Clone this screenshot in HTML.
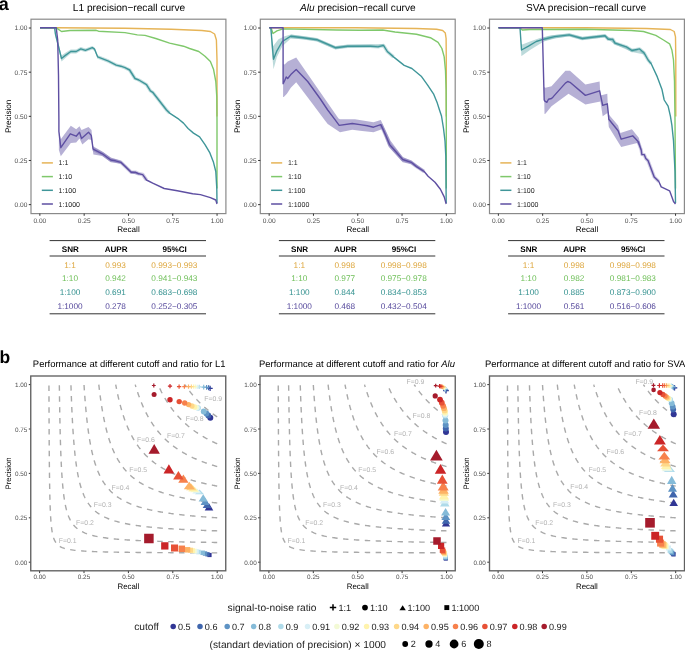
<!DOCTYPE html>
<html><head><meta charset="utf-8"><style>
html,body{margin:0;padding:0;background:#fff;overflow:hidden}
svg{display:block;font-family:"Liberation Sans", sans-serif;text-rendering:geometricPrecision;will-change:transform}
</style></head><body>
<svg width="685" height="650" viewBox="0 0 685 650">
<rect width="685" height="650" fill="#fff"/>
<text x="-1.30" y="9.70" font-size="18.0" text-anchor="start" fill="#000" font-weight="bold" font-style="normal" >a</text>
<text x="-0.60" y="363.00" font-size="17.5" text-anchor="start" fill="#000" font-weight="bold" font-style="normal" >b</text>
<rect x="31.00" y="19.20" width="194.90" height="194.40" fill="none" stroke="#8a8a8a" stroke-width="1.2"/>
<line x1="39.86" y1="213.60" x2="39.86" y2="215.80" stroke="#333333" stroke-width="1"/>
<line x1="28.80" y1="204.63" x2="31.00" y2="204.63" stroke="#333333" stroke-width="1"/>
<text x="39.86" y="223.20" font-size="6.6" text-anchor="middle" fill="#4D4D4D" font-weight="normal" font-style="normal" >0.00</text>
<text x="27.40" y="207.01" font-size="6.6" text-anchor="end" fill="#4D4D4D" font-weight="normal" font-style="normal" >0.00</text>
<line x1="84.16" y1="213.60" x2="84.16" y2="215.80" stroke="#333333" stroke-width="1"/>
<line x1="28.80" y1="160.48" x2="31.00" y2="160.48" stroke="#333333" stroke-width="1"/>
<text x="84.16" y="223.20" font-size="6.6" text-anchor="middle" fill="#4D4D4D" font-weight="normal" font-style="normal" >0.25</text>
<text x="27.40" y="162.86" font-size="6.6" text-anchor="end" fill="#4D4D4D" font-weight="normal" font-style="normal" >0.25</text>
<line x1="128.46" y1="213.60" x2="128.46" y2="215.80" stroke="#333333" stroke-width="1"/>
<line x1="28.80" y1="116.33" x2="31.00" y2="116.33" stroke="#333333" stroke-width="1"/>
<text x="128.46" y="223.20" font-size="6.6" text-anchor="middle" fill="#4D4D4D" font-weight="normal" font-style="normal" >0.50</text>
<text x="27.40" y="118.71" font-size="6.6" text-anchor="end" fill="#4D4D4D" font-weight="normal" font-style="normal" >0.50</text>
<line x1="172.76" y1="213.60" x2="172.76" y2="215.80" stroke="#333333" stroke-width="1"/>
<line x1="28.80" y1="72.18" x2="31.00" y2="72.18" stroke="#333333" stroke-width="1"/>
<text x="172.76" y="223.20" font-size="6.6" text-anchor="middle" fill="#4D4D4D" font-weight="normal" font-style="normal" >0.75</text>
<text x="27.40" y="74.56" font-size="6.6" text-anchor="end" fill="#4D4D4D" font-weight="normal" font-style="normal" >0.75</text>
<line x1="217.06" y1="213.60" x2="217.06" y2="215.80" stroke="#333333" stroke-width="1"/>
<line x1="28.80" y1="28.03" x2="31.00" y2="28.03" stroke="#333333" stroke-width="1"/>
<text x="217.06" y="223.20" font-size="6.6" text-anchor="middle" fill="#4D4D4D" font-weight="normal" font-style="normal" >1.00</text>
<text x="27.40" y="30.41" font-size="6.6" text-anchor="end" fill="#4D4D4D" font-weight="normal" font-style="normal" >1.00</text>
<text x="128.45" y="232.00" font-size="8.1" text-anchor="middle" fill="#000" font-weight="normal" font-style="normal" >Recall</text>
<text x="10.90" y="116.40" font-size="8.1" text-anchor="middle" fill="#000" font-weight="normal" font-style="normal" transform="rotate(-90 10.90 116.40)">Precision</text>
<text x="129.00" y="10.80" font-size="10.15" text-anchor="middle" fill="#000" font-weight="normal" font-style="normal" >L1 precision−recall curve</text>
<line x1="41.80" y1="162.90" x2="52.90" y2="162.90" stroke="#E6B457" stroke-width="1.5"/>
<text x="58.60" y="165.40" font-size="7" text-anchor="start" fill="#1a1a1a" font-weight="normal" font-style="normal" >1:1</text>
<line x1="41.80" y1="176.60" x2="52.90" y2="176.60" stroke="#7FC86B" stroke-width="1.5"/>
<text x="58.60" y="179.10" font-size="7" text-anchor="start" fill="#1a1a1a" font-weight="normal" font-style="normal" >1:10</text>
<line x1="41.80" y1="190.30" x2="52.90" y2="190.30" stroke="#3F9699" stroke-width="1.5"/>
<text x="58.60" y="192.80" font-size="7" text-anchor="start" fill="#1a1a1a" font-weight="normal" font-style="normal" >1:100</text>
<line x1="41.80" y1="204.00" x2="52.90" y2="204.00" stroke="#5E4FA2" stroke-width="1.5"/>
<text x="58.60" y="206.50" font-size="7" text-anchor="start" fill="#1a1a1a" font-weight="normal" font-style="normal" >1:1000</text>
<rect x="260.30" y="19.20" width="194.90" height="194.40" fill="none" stroke="#8a8a8a" stroke-width="1.2"/>
<line x1="269.16" y1="213.60" x2="269.16" y2="215.80" stroke="#333333" stroke-width="1"/>
<line x1="258.10" y1="204.63" x2="260.30" y2="204.63" stroke="#333333" stroke-width="1"/>
<text x="269.16" y="223.20" font-size="6.6" text-anchor="middle" fill="#4D4D4D" font-weight="normal" font-style="normal" >0.00</text>
<text x="256.70" y="207.01" font-size="6.6" text-anchor="end" fill="#4D4D4D" font-weight="normal" font-style="normal" >0.00</text>
<line x1="313.46" y1="213.60" x2="313.46" y2="215.80" stroke="#333333" stroke-width="1"/>
<line x1="258.10" y1="160.48" x2="260.30" y2="160.48" stroke="#333333" stroke-width="1"/>
<text x="313.46" y="223.20" font-size="6.6" text-anchor="middle" fill="#4D4D4D" font-weight="normal" font-style="normal" >0.25</text>
<text x="256.70" y="162.86" font-size="6.6" text-anchor="end" fill="#4D4D4D" font-weight="normal" font-style="normal" >0.25</text>
<line x1="357.76" y1="213.60" x2="357.76" y2="215.80" stroke="#333333" stroke-width="1"/>
<line x1="258.10" y1="116.33" x2="260.30" y2="116.33" stroke="#333333" stroke-width="1"/>
<text x="357.76" y="223.20" font-size="6.6" text-anchor="middle" fill="#4D4D4D" font-weight="normal" font-style="normal" >0.50</text>
<text x="256.70" y="118.71" font-size="6.6" text-anchor="end" fill="#4D4D4D" font-weight="normal" font-style="normal" >0.50</text>
<line x1="402.06" y1="213.60" x2="402.06" y2="215.80" stroke="#333333" stroke-width="1"/>
<line x1="258.10" y1="72.18" x2="260.30" y2="72.18" stroke="#333333" stroke-width="1"/>
<text x="402.06" y="223.20" font-size="6.6" text-anchor="middle" fill="#4D4D4D" font-weight="normal" font-style="normal" >0.75</text>
<text x="256.70" y="74.56" font-size="6.6" text-anchor="end" fill="#4D4D4D" font-weight="normal" font-style="normal" >0.75</text>
<line x1="446.36" y1="213.60" x2="446.36" y2="215.80" stroke="#333333" stroke-width="1"/>
<line x1="258.10" y1="28.03" x2="260.30" y2="28.03" stroke="#333333" stroke-width="1"/>
<text x="446.36" y="223.20" font-size="6.6" text-anchor="middle" fill="#4D4D4D" font-weight="normal" font-style="normal" >1.00</text>
<text x="256.70" y="30.41" font-size="6.6" text-anchor="end" fill="#4D4D4D" font-weight="normal" font-style="normal" >1.00</text>
<text x="357.75" y="232.00" font-size="8.1" text-anchor="middle" fill="#000" font-weight="normal" font-style="normal" >Recall</text>
<text x="240.20" y="116.40" font-size="8.1" text-anchor="middle" fill="#000" font-weight="normal" font-style="normal" transform="rotate(-90 240.20 116.40)">Precision</text>
<text x="357.75" y="10.80" font-size="10.15" text-anchor="middle" fill="#000" font-weight="normal" font-style="normal" ><tspan font-style="italic">Alu</tspan> precision−recall curve</text>
<line x1="271.10" y1="162.90" x2="282.20" y2="162.90" stroke="#E6B457" stroke-width="1.5"/>
<text x="287.90" y="165.40" font-size="7" text-anchor="start" fill="#1a1a1a" font-weight="normal" font-style="normal" >1:1</text>
<line x1="271.10" y1="176.60" x2="282.20" y2="176.60" stroke="#7FC86B" stroke-width="1.5"/>
<text x="287.90" y="179.10" font-size="7" text-anchor="start" fill="#1a1a1a" font-weight="normal" font-style="normal" >1:10</text>
<line x1="271.10" y1="190.30" x2="282.20" y2="190.30" stroke="#3F9699" stroke-width="1.5"/>
<text x="287.90" y="192.80" font-size="7" text-anchor="start" fill="#1a1a1a" font-weight="normal" font-style="normal" >1:100</text>
<line x1="271.10" y1="204.00" x2="282.20" y2="204.00" stroke="#5E4FA2" stroke-width="1.5"/>
<text x="287.90" y="206.50" font-size="7" text-anchor="start" fill="#1a1a1a" font-weight="normal" font-style="normal" >1:1000</text>
<rect x="489.50" y="19.20" width="194.90" height="194.40" fill="none" stroke="#8a8a8a" stroke-width="1.2"/>
<line x1="498.36" y1="213.60" x2="498.36" y2="215.80" stroke="#333333" stroke-width="1"/>
<line x1="487.30" y1="204.63" x2="489.50" y2="204.63" stroke="#333333" stroke-width="1"/>
<text x="498.36" y="223.20" font-size="6.6" text-anchor="middle" fill="#4D4D4D" font-weight="normal" font-style="normal" >0.00</text>
<text x="485.90" y="207.01" font-size="6.6" text-anchor="end" fill="#4D4D4D" font-weight="normal" font-style="normal" >0.00</text>
<line x1="542.66" y1="213.60" x2="542.66" y2="215.80" stroke="#333333" stroke-width="1"/>
<line x1="487.30" y1="160.48" x2="489.50" y2="160.48" stroke="#333333" stroke-width="1"/>
<text x="542.66" y="223.20" font-size="6.6" text-anchor="middle" fill="#4D4D4D" font-weight="normal" font-style="normal" >0.25</text>
<text x="485.90" y="162.86" font-size="6.6" text-anchor="end" fill="#4D4D4D" font-weight="normal" font-style="normal" >0.25</text>
<line x1="586.96" y1="213.60" x2="586.96" y2="215.80" stroke="#333333" stroke-width="1"/>
<line x1="487.30" y1="116.33" x2="489.50" y2="116.33" stroke="#333333" stroke-width="1"/>
<text x="586.96" y="223.20" font-size="6.6" text-anchor="middle" fill="#4D4D4D" font-weight="normal" font-style="normal" >0.50</text>
<text x="485.90" y="118.71" font-size="6.6" text-anchor="end" fill="#4D4D4D" font-weight="normal" font-style="normal" >0.50</text>
<line x1="631.26" y1="213.60" x2="631.26" y2="215.80" stroke="#333333" stroke-width="1"/>
<line x1="487.30" y1="72.18" x2="489.50" y2="72.18" stroke="#333333" stroke-width="1"/>
<text x="631.26" y="223.20" font-size="6.6" text-anchor="middle" fill="#4D4D4D" font-weight="normal" font-style="normal" >0.75</text>
<text x="485.90" y="74.56" font-size="6.6" text-anchor="end" fill="#4D4D4D" font-weight="normal" font-style="normal" >0.75</text>
<line x1="675.56" y1="213.60" x2="675.56" y2="215.80" stroke="#333333" stroke-width="1"/>
<line x1="487.30" y1="28.03" x2="489.50" y2="28.03" stroke="#333333" stroke-width="1"/>
<text x="675.56" y="223.20" font-size="6.6" text-anchor="middle" fill="#4D4D4D" font-weight="normal" font-style="normal" >1.00</text>
<text x="485.90" y="30.41" font-size="6.6" text-anchor="end" fill="#4D4D4D" font-weight="normal" font-style="normal" >1.00</text>
<text x="586.95" y="232.00" font-size="8.1" text-anchor="middle" fill="#000" font-weight="normal" font-style="normal" >Recall</text>
<text x="469.40" y="116.40" font-size="8.1" text-anchor="middle" fill="#000" font-weight="normal" font-style="normal" transform="rotate(-90 469.40 116.40)">Precision</text>
<text x="586.10" y="10.80" font-size="10.15" text-anchor="middle" fill="#000" font-weight="normal" font-style="normal" >SVA precision−recall curve</text>
<line x1="500.30" y1="162.90" x2="511.40" y2="162.90" stroke="#E6B457" stroke-width="1.5"/>
<text x="517.10" y="165.40" font-size="7" text-anchor="start" fill="#1a1a1a" font-weight="normal" font-style="normal" >1:1</text>
<line x1="500.30" y1="176.60" x2="511.40" y2="176.60" stroke="#7FC86B" stroke-width="1.5"/>
<text x="517.10" y="179.10" font-size="7" text-anchor="start" fill="#1a1a1a" font-weight="normal" font-style="normal" >1:10</text>
<line x1="500.30" y1="190.30" x2="511.40" y2="190.30" stroke="#3F9699" stroke-width="1.5"/>
<text x="517.10" y="192.80" font-size="7" text-anchor="start" fill="#1a1a1a" font-weight="normal" font-style="normal" >1:100</text>
<line x1="500.30" y1="204.00" x2="511.40" y2="204.00" stroke="#5E4FA2" stroke-width="1.5"/>
<text x="517.10" y="206.50" font-size="7" text-anchor="start" fill="#1a1a1a" font-weight="normal" font-style="normal" >1:1000</text>
<polyline points="97.70,56.90 108.50,61.20 116.20,65.10 120.80,66.20 125.00,67.70 129.60,70.00 135.00,78.50 138.80,80.00 146.50,84.60 150.40,90.80 152.70,92.30 166.50,110.00 169.60,113.10" fill="none" stroke="#3F9699" stroke-opacity="0.3" stroke-width="3.4" stroke-linejoin="round"/>
<polyline points="93.10,149.20 102.30,153.80 110.80,160.00 115.40,160.80 120.80,162.30 125.00,166.20 131.20,172.30 135.80,172.30 138.80,173.80 142.70,174.60 146.50,180.00" fill="none" stroke="#5E4FA2" stroke-opacity="0.3" stroke-width="3.6" stroke-linejoin="round"/>
<polygon points="55.40,31.00 61.50,55.50 65.40,52.80 70.80,49.50 76.20,49.50 80.80,47.00 85.40,48.50 92.30,46.00 94.60,47.50 97.70,55.30 97.70,58.50 94.60,51.00 92.30,49.40 85.40,52.10 80.80,50.80 76.20,53.50 70.80,53.50 65.40,58.00 61.50,61.50 55.40,36.50" fill="#3F9699" fill-opacity="0.35" stroke="none"/>
<polygon points="58.90,131.00 60.80,139.20 70.80,125.80 76.20,129.20 79.50,126.20 81.50,130.00 88.50,126.90 91.50,130.00 93.10,146.20 102.30,151.50 110.80,157.50 120.80,160.80 125.00,164.80 131.20,171.00 138.80,172.80 138.80,174.80 131.20,173.60 125.00,167.60 120.80,163.80 110.80,162.30 102.30,156.00 93.40,154.60 91.50,140.00 88.50,139.20 82.30,144.60 79.50,138.50 76.20,142.60 70.80,143.00 60.80,156.20 58.90,150.00" fill="#5E4FA2" fill-opacity="0.45" stroke="none"/>
<polyline points="40.00,27.70 56.00,27.70 125.00,28.20 171.20,29.20 201.90,30.50 210.40,31.50 214.60,34.00 216.40,40.00 217.00,60.00 217.00,116.50" fill="none" stroke="#E6B457" stroke-width="1.4" stroke-linejoin="round"/>
<polyline points="40.00,27.70 56.00,27.70 61.50,31.50 70.00,30.50 96.20,30.30 98.50,31.20 125.00,32.60 137.30,34.90 145.00,35.40 155.80,38.50 169.60,43.10 183.50,46.20 189.60,48.50 198.80,51.50 205.00,56.20 210.40,61.50 213.50,69.20 215.80,81.50 216.80,96.90 217.00,120.00 217.00,188.50" fill="none" stroke="#7FC86B" stroke-width="1.4" stroke-linejoin="round"/>
<polyline points="40.00,27.70 54.60,27.70 55.40,33.80 61.50,58.50 65.40,55.40 70.80,51.50 76.20,51.50 80.80,48.90 85.40,50.30 92.30,47.70 94.60,49.20 97.70,56.90 108.50,61.20 116.20,65.10 120.80,66.20 125.00,67.70 129.60,70.00 135.00,78.50 138.80,80.00 146.50,84.60 150.40,90.80 152.70,92.30 166.50,110.00 169.60,113.10 178.80,119.20 183.50,123.10 188.10,128.50 193.50,133.10 199.60,136.90 205.00,144.60 209.60,152.30 213.50,162.30 215.80,171.50 216.80,188.50 217.00,203.00" fill="none" stroke="#3F9699" stroke-width="1.4" stroke-linejoin="round"/>
<polyline points="40.00,27.70 56.20,27.70 57.70,40.00 58.50,75.40 58.90,120.00 58.90,131.50 60.80,147.70 70.30,133.80 76.20,136.20 79.50,132.30 81.50,138.50 88.50,132.30 91.20,135.40 93.10,149.20 102.30,153.80 110.80,160.00 115.40,160.80 120.80,162.30 125.00,166.20 131.20,172.30 135.80,172.30 138.80,173.80 142.70,174.60 146.50,180.00 152.70,183.10 164.20,188.50 177.30,190.80 192.70,193.80 200.40,194.60 210.40,197.70 215.80,200.00 217.00,204.00" fill="none" stroke="#5E4FA2" stroke-width="1.4" stroke-linejoin="round"/>
<polyline points="290.80,36.20 303.10,37.70 316.90,39.70 335.40,47.70 347.70,46.20 355.00,46.20 370.40,46.20 378.10,46.90 383.50,45.40 387.30,51.50 393.50,56.90" fill="none" stroke="#3F9699" stroke-opacity="0.3" stroke-width="3.4" stroke-linejoin="round"/>
<polyline points="380.80,124.60 385.80,135.40 389.60,144.60 395.00,150.80 402.70,159.50 411.20,162.30 416.50,166.60 424.20,171.50" fill="none" stroke="#5E4FA2" stroke-opacity="0.3" stroke-width="3.6" stroke-linejoin="round"/>
<polygon points="271.00,29.00 273.00,46.20 278.50,39.20 284.60,36.20 290.80,34.60 303.10,36.20 316.90,38.20 335.40,46.20 347.70,44.80 383.50,44.00 383.50,46.80 347.70,47.60 335.40,49.20 316.90,41.20 303.10,39.30 290.80,38.50 282.30,46.20 276.90,56.90 273.50,69.20 271.30,45.00" fill="#3F9699" fill-opacity="0.35" stroke="none"/>
<polygon points="283.10,64.00 284.60,64.60 287.70,61.50 296.20,57.40 338.50,118.50 340.00,119.20 355.00,119.20 373.50,122.30 380.80,120.00 390.40,140.50 402.70,157.00 411.20,160.50 424.20,170.00 424.20,173.00 411.20,164.20 402.70,162.30 388.80,146.90 381.90,129.20 373.50,132.30 360.00,130.80 352.30,129.70 340.00,132.30 327.70,124.00 324.60,120.00 310.80,101.50 296.20,82.30 290.80,87.70 286.90,93.80 283.80,96.90 283.10,97.00" fill="#5E4FA2" fill-opacity="0.45" stroke="none"/>
<polyline points="269.30,27.70 355.00,27.70 416.50,28.50 436.50,29.20 442.70,30.50 445.30,33.10 446.10,38.50 446.30,60.00 446.30,116.50" fill="none" stroke="#E6B457" stroke-width="1.4" stroke-linejoin="round"/>
<polyline points="269.30,27.70 271.00,27.70 273.00,33.50 276.90,30.80 283.10,28.90 336.90,30.00 360.00,30.30 382.70,30.00 395.00,32.00 416.50,34.20 430.40,37.70 438.10,42.30 441.90,48.50 444.20,56.90 445.50,70.80 446.10,89.20 446.30,120.00 446.30,188.50" fill="none" stroke="#7FC86B" stroke-width="1.4" stroke-linejoin="round"/>
<polyline points="269.30,27.70 270.80,27.70 273.50,59.20 276.90,50.80 282.30,41.50 290.80,36.20 303.10,37.70 316.90,39.70 335.40,47.70 347.70,46.20 355.00,46.20 370.40,46.20 378.10,46.90 383.50,45.40 387.30,51.50 393.50,56.90 404.20,65.40 411.90,68.50 421.20,76.20 427.30,84.60 433.50,93.80 437.30,103.10 439.50,110.00 441.50,116.00 443.50,128.50 445.00,140.80 445.80,156.20 446.20,203.00" fill="none" stroke="#3F9699" stroke-width="1.4" stroke-linejoin="round"/>
<polyline points="269.30,27.70 283.10,27.70 283.10,83.80 284.60,80.80 286.20,76.90 287.70,78.50 290.80,74.60 296.20,69.50 307.70,81.50 320.00,98.50 327.70,110.00 334.60,119.20 339.20,125.40 352.30,123.50 360.00,124.60 367.30,125.70 373.50,127.20 380.80,124.60 385.80,135.40 389.60,144.60 395.00,150.80 402.70,159.50 411.20,162.30 416.50,166.60 424.20,171.50 428.10,176.20 435.00,182.30 440.40,189.20 444.20,196.90 446.20,204.00" fill="none" stroke="#5E4FA2" stroke-width="1.4" stroke-linejoin="round"/>
<polyline points="543.80,39.20 554.60,36.60 569.20,34.90 582.30,38.50 590.00,37.50 605.00,35.80 608.10,39.20 612.70,39.20 615.00,43.10 626.50,46.90 631.90,50.50 639.60,48.90 644.20,53.10 648.10,60.00 651.20,63.80" fill="none" stroke="#3F9699" stroke-opacity="0.3" stroke-width="3.4" stroke-linejoin="round"/>
<polyline points="638.10,141.50 641.20,150.00 641.90,154.60 644.20,154.60 645.80,158.50 648.10,160.80 654.20,176.90 658.80,181.50" fill="none" stroke="#5E4FA2" stroke-opacity="0.3" stroke-width="3.4" stroke-linejoin="round"/>
<polygon points="521.00,44.00 522.30,44.60 530.00,41.50 539.20,38.20 550.00,35.60 569.20,33.60 582.30,37.10 605.00,34.40 615.00,41.60 631.90,49.00 644.20,51.60 644.20,54.60 631.90,52.00 615.00,44.60 605.00,37.20 582.30,39.90 569.20,36.20 555.00,38.50 543.80,41.50 530.00,50.00 522.30,55.40 521.30,56.00" fill="#3F9699" fill-opacity="0.35" stroke="none"/>
<polygon points="544.00,87.00 545.40,87.70 551.50,86.20 565.40,70.80 570.00,70.80 585.40,84.60 599.60,81.50 600.40,95.40 607.30,93.80 608.10,112.30 608.80,114.60 618.10,125.40 620.40,133.10 631.90,129.20 638.80,137.70 641.50,149.00 641.50,152.00 639.60,146.90 637.30,143.10 621.20,146.90 608.80,126.90 607.50,113.00 602.70,116.20 600.40,101.50 585.40,104.60 568.50,93.80 551.50,106.20 545.40,113.80 544.50,114.00" fill="#5E4FA2" fill-opacity="0.45" stroke="none"/>
<polyline points="498.50,27.70 585.00,27.70 646.50,28.50 670.40,29.50 674.20,31.50 675.50,36.90 675.80,60.00 675.80,116.50" fill="none" stroke="#E6B457" stroke-width="1.4" stroke-linejoin="round"/>
<polyline points="498.50,27.70 520.00,27.70 522.30,30.00 530.00,29.50 585.00,29.20 631.20,30.50 643.50,31.50 655.80,35.40 663.50,40.00 669.60,43.80 671.90,50.00 673.50,60.00 674.50,81.50 675.00,120.00 675.50,188.50" fill="none" stroke="#7FC86B" stroke-width="1.4" stroke-linejoin="round"/>
<polyline points="498.50,27.70 520.00,27.70 521.50,50.00 528.50,46.20 536.20,41.50 543.80,39.20 554.60,36.60 569.20,34.90 582.30,38.50 590.00,37.50 605.00,35.80 608.10,39.20 612.70,39.20 615.00,43.10 626.50,46.90 631.90,50.50 639.60,48.90 644.20,53.10 648.10,60.00 651.20,63.80 657.30,76.90 661.90,89.20 664.20,100.00 668.10,106.20 670.40,116.20 671.90,125.40 673.50,140.80 675.00,171.50 675.50,203.00" fill="none" stroke="#3F9699" stroke-width="1.4" stroke-linejoin="round"/>
<polyline points="498.50,27.70 542.30,27.70 544.20,100.00 544.60,100.80 546.90,102.30 548.50,99.20 551.50,98.50 553.10,96.90 565.40,83.10 567.70,81.50 570.00,82.30 585.40,95.40 599.60,90.80 602.70,105.40 607.30,103.80 608.50,115.00 608.80,119.20 618.10,130.80 621.20,139.20 632.70,135.80 638.10,141.50 641.20,150.00 641.90,154.60 644.20,154.60 645.80,158.50 648.10,160.80 654.20,176.90 658.80,181.50 661.20,186.90 669.60,190.80 671.90,196.90 673.50,201.50 675.50,204.00" fill="none" stroke="#5E4FA2" stroke-width="1.4" stroke-linejoin="round"/>
<line x1="49.60" y1="240.6" x2="206.00" y2="240.6" stroke="#333" stroke-width="1"/>
<line x1="49.60" y1="256.0" x2="206.00" y2="256.0" stroke="#333" stroke-width="1"/>
<line x1="49.60" y1="313.8" x2="206.00" y2="313.8" stroke="#333" stroke-width="1"/>
<text x="70.30" y="252.30" font-size="8.1" text-anchor="middle" fill="#000" font-weight="bold" font-style="normal" >SNR</text>
<text x="116.10" y="252.30" font-size="8.1" text-anchor="middle" fill="#000" font-weight="bold" font-style="normal" >AUPR</text>
<text x="174.70" y="252.30" font-size="8.1" text-anchor="middle" fill="#000" font-weight="bold" font-style="normal" >95%CI</text>
<text x="70.00" y="267.55" font-size="8.25" text-anchor="middle" fill="#DDA63C" font-weight="normal" font-style="normal" >1:1</text>
<text x="115.50" y="267.55" font-size="8.25" text-anchor="middle" fill="#DDA63C" font-weight="normal" font-style="normal" >0.993</text>
<text x="174.40" y="267.55" font-size="8.25" text-anchor="middle" fill="#DDA63C" font-weight="normal" font-style="normal" >0.993−0.993</text>
<text x="70.00" y="280.95" font-size="8.25" text-anchor="middle" fill="#6EBF58" font-weight="normal" font-style="normal" >1:10</text>
<text x="115.50" y="280.95" font-size="8.25" text-anchor="middle" fill="#6EBF58" font-weight="normal" font-style="normal" >0.942</text>
<text x="174.40" y="280.95" font-size="8.25" text-anchor="middle" fill="#6EBF58" font-weight="normal" font-style="normal" >0.941−0.943</text>
<text x="70.00" y="294.65" font-size="8.25" text-anchor="middle" fill="#33918F" font-weight="normal" font-style="normal" >1:100</text>
<text x="115.50" y="294.65" font-size="8.25" text-anchor="middle" fill="#33918F" font-weight="normal" font-style="normal" >0.691</text>
<text x="174.40" y="294.65" font-size="8.25" text-anchor="middle" fill="#33918F" font-weight="normal" font-style="normal" >0.683−0.698</text>
<text x="70.00" y="308.65" font-size="8.25" text-anchor="middle" fill="#56499C" font-weight="normal" font-style="normal" >1:1000</text>
<text x="115.50" y="308.65" font-size="8.25" text-anchor="middle" fill="#56499C" font-weight="normal" font-style="normal" >0.278</text>
<text x="174.40" y="308.65" font-size="8.25" text-anchor="middle" fill="#56499C" font-weight="normal" font-style="normal" >0.252−0.305</text>
<line x1="278.90" y1="240.6" x2="435.30" y2="240.6" stroke="#333" stroke-width="1"/>
<line x1="278.90" y1="256.0" x2="435.30" y2="256.0" stroke="#333" stroke-width="1"/>
<line x1="278.90" y1="313.8" x2="435.30" y2="313.8" stroke="#333" stroke-width="1"/>
<text x="299.60" y="252.30" font-size="8.1" text-anchor="middle" fill="#000" font-weight="bold" font-style="normal" >SNR</text>
<text x="345.40" y="252.30" font-size="8.1" text-anchor="middle" fill="#000" font-weight="bold" font-style="normal" >AUPR</text>
<text x="404.00" y="252.30" font-size="8.1" text-anchor="middle" fill="#000" font-weight="bold" font-style="normal" >95%CI</text>
<text x="299.30" y="267.55" font-size="8.25" text-anchor="middle" fill="#DDA63C" font-weight="normal" font-style="normal" >1:1</text>
<text x="344.80" y="267.55" font-size="8.25" text-anchor="middle" fill="#DDA63C" font-weight="normal" font-style="normal" >0.998</text>
<text x="403.70" y="267.55" font-size="8.25" text-anchor="middle" fill="#DDA63C" font-weight="normal" font-style="normal" >0.998−0.998</text>
<text x="299.30" y="280.95" font-size="8.25" text-anchor="middle" fill="#6EBF58" font-weight="normal" font-style="normal" >1:10</text>
<text x="344.80" y="280.95" font-size="8.25" text-anchor="middle" fill="#6EBF58" font-weight="normal" font-style="normal" >0.977</text>
<text x="403.70" y="280.95" font-size="8.25" text-anchor="middle" fill="#6EBF58" font-weight="normal" font-style="normal" >0.975−0.978</text>
<text x="299.30" y="294.65" font-size="8.25" text-anchor="middle" fill="#33918F" font-weight="normal" font-style="normal" >1:100</text>
<text x="344.80" y="294.65" font-size="8.25" text-anchor="middle" fill="#33918F" font-weight="normal" font-style="normal" >0.844</text>
<text x="403.70" y="294.65" font-size="8.25" text-anchor="middle" fill="#33918F" font-weight="normal" font-style="normal" >0.834−0.853</text>
<text x="299.30" y="308.65" font-size="8.25" text-anchor="middle" fill="#56499C" font-weight="normal" font-style="normal" >1:1000</text>
<text x="344.80" y="308.65" font-size="8.25" text-anchor="middle" fill="#56499C" font-weight="normal" font-style="normal" >0.468</text>
<text x="403.70" y="308.65" font-size="8.25" text-anchor="middle" fill="#56499C" font-weight="normal" font-style="normal" >0.432−0.504</text>
<line x1="508.10" y1="240.6" x2="664.50" y2="240.6" stroke="#333" stroke-width="1"/>
<line x1="508.10" y1="256.0" x2="664.50" y2="256.0" stroke="#333" stroke-width="1"/>
<line x1="508.10" y1="313.8" x2="664.50" y2="313.8" stroke="#333" stroke-width="1"/>
<text x="528.80" y="252.30" font-size="8.1" text-anchor="middle" fill="#000" font-weight="bold" font-style="normal" >SNR</text>
<text x="574.60" y="252.30" font-size="8.1" text-anchor="middle" fill="#000" font-weight="bold" font-style="normal" >AUPR</text>
<text x="633.20" y="252.30" font-size="8.1" text-anchor="middle" fill="#000" font-weight="bold" font-style="normal" >95%CI</text>
<text x="528.50" y="267.55" font-size="8.25" text-anchor="middle" fill="#DDA63C" font-weight="normal" font-style="normal" >1:1</text>
<text x="574.00" y="267.55" font-size="8.25" text-anchor="middle" fill="#DDA63C" font-weight="normal" font-style="normal" >0.998</text>
<text x="632.90" y="267.55" font-size="8.25" text-anchor="middle" fill="#DDA63C" font-weight="normal" font-style="normal" >0.998−0.998</text>
<text x="528.50" y="280.95" font-size="8.25" text-anchor="middle" fill="#6EBF58" font-weight="normal" font-style="normal" >1:10</text>
<text x="574.00" y="280.95" font-size="8.25" text-anchor="middle" fill="#6EBF58" font-weight="normal" font-style="normal" >0.982</text>
<text x="632.90" y="280.95" font-size="8.25" text-anchor="middle" fill="#6EBF58" font-weight="normal" font-style="normal" >0.981−0.983</text>
<text x="528.50" y="294.65" font-size="8.25" text-anchor="middle" fill="#33918F" font-weight="normal" font-style="normal" >1:100</text>
<text x="574.00" y="294.65" font-size="8.25" text-anchor="middle" fill="#33918F" font-weight="normal" font-style="normal" >0.885</text>
<text x="632.90" y="294.65" font-size="8.25" text-anchor="middle" fill="#33918F" font-weight="normal" font-style="normal" >0.873−0.900</text>
<text x="528.50" y="308.65" font-size="8.25" text-anchor="middle" fill="#56499C" font-weight="normal" font-style="normal" >1:1000</text>
<text x="574.00" y="308.65" font-size="8.25" text-anchor="middle" fill="#56499C" font-weight="normal" font-style="normal" >0.561</text>
<text x="632.90" y="308.65" font-size="8.25" text-anchor="middle" fill="#56499C" font-weight="normal" font-style="normal" >0.516−0.606</text>
<clipPath id="cp0"><rect x="31.00" y="376.00" width="194.90" height="194.90"/></clipPath>
<g clip-path="url(#cp0)"><polyline points="217.20,552.85 215.60,552.85 214.00,552.84 212.40,552.84 210.81,552.83 209.21,552.83 207.61,552.82 206.01,552.82 204.41,552.81 202.81,552.81 201.22,552.80 199.62,552.80 198.02,552.79 196.42,552.79 194.82,552.78 193.22,552.78 191.63,552.77 190.03,552.76 188.43,552.76 186.83,552.75 185.23,552.74 183.63,552.74 182.04,552.73 180.44,552.72 178.84,552.72 177.24,552.71 175.64,552.70 174.04,552.69 172.44,552.68 170.85,552.68 169.25,552.67 167.65,552.66 166.05,552.65 164.45,552.64 162.85,552.63 161.26,552.62 159.66,552.61 158.06,552.60 156.46,552.59 154.86,552.58 153.26,552.57 151.67,552.56 150.07,552.54 148.47,552.53 146.87,552.52 145.27,552.51 143.67,552.49 142.08,552.48 140.48,552.46 138.88,552.45 137.28,552.43 135.68,552.42 134.08,552.40 132.48,552.38 130.89,552.36 129.29,552.34 127.69,552.32 126.09,552.30 124.49,552.28 122.89,552.26 121.30,552.24 119.70,552.21 118.10,552.19 116.50,552.16 114.90,552.13 113.30,552.10 111.71,552.07 110.11,552.04 108.51,552.01 106.91,551.97 105.31,551.93 103.71,551.89 102.12,551.85 100.52,551.80 98.92,551.76 97.32,551.71 95.72,551.65 94.12,551.59 92.52,551.53 90.93,551.46 89.33,551.39 87.73,551.31 86.13,551.23 84.53,551.13 82.93,551.03 81.34,550.92 79.74,550.80 78.14,550.66 76.54,550.51 74.94,550.34 73.34,550.15 71.75,549.93 70.15,549.68 68.55,549.39 66.95,549.05 65.35,548.65 63.75,548.16 62.16,547.55 60.56,546.79 58.96,545.79 57.36,544.44 56.01,542.84 55.01,541.24 54.25,539.64 53.64,538.05 53.15,536.45 52.75,534.85 52.41,533.25 52.12,531.65 51.87,530.05 51.65,528.46 51.46,526.86 51.29,525.26 51.14,523.66 51.00,522.06 50.88,520.46 50.77,518.87 50.67,517.27 50.57,515.67 50.49,514.07 50.41,512.47 50.34,510.87 50.27,509.28 50.21,507.68 50.15,506.08 50.09,504.48 50.04,502.88 50.00,501.28 49.95,499.68 49.91,498.09 49.87,496.49 49.83,494.89 49.79,493.29 49.76,491.69 49.73,490.09 49.70,488.50 49.67,486.90 49.64,485.30 49.61,483.70 49.59,482.10 49.56,480.50 49.54,478.91 49.52,477.31 49.50,475.71 49.48,474.11 49.46,472.51 49.44,470.91 49.42,469.32 49.40,467.72 49.38,466.12 49.37,464.52 49.35,462.92 49.34,461.32 49.32,459.72 49.31,458.13 49.29,456.53 49.28,454.93 49.27,453.33 49.26,451.73 49.24,450.13 49.23,448.54 49.22,446.94 49.21,445.34 49.20,443.74 49.19,442.14 49.18,440.54 49.17,438.95 49.16,437.35 49.15,435.75 49.14,434.15 49.13,432.55 49.12,430.95 49.12,429.36 49.11,427.76 49.10,426.16 49.09,424.56 49.08,422.96 49.08,421.36 49.07,419.76 49.06,418.17 49.06,416.57 49.05,414.97 49.04,413.37 49.04,411.77 49.03,410.17 49.02,408.58 49.02,406.98 49.01,405.38 49.01,403.78 49.00,402.18 49.00,400.58 48.99,398.99 48.99,397.39 48.98,395.79 48.98,394.19 48.97,392.59 48.97,390.99 48.96,389.40 48.96,387.80 48.95,386.20 48.95,384.60" fill="none" stroke="#A9A9A9" stroke-width="1.4" stroke-dasharray="5.45 5.45" stroke-dashoffset="0.0"/><polyline points="217.20,542.47 215.78,542.45 214.36,542.43 212.94,542.41 211.52,542.39 210.10,542.37 208.68,542.36 207.25,542.34 205.83,542.32 204.41,542.30 202.99,542.27 201.57,542.25 200.15,542.23 198.73,542.21 197.31,542.19 195.89,542.16 194.47,542.14 193.05,542.12 191.63,542.09 190.20,542.07 188.78,542.04 187.36,542.01 185.94,541.99 184.52,541.96 183.10,541.93 181.68,541.90 180.26,541.87 178.84,541.84 177.42,541.81 176.00,541.78 174.58,541.75 173.16,541.72 171.73,541.68 170.31,541.65 168.89,541.61 167.47,541.58 166.05,541.54 164.63,541.50 163.21,541.46 161.79,541.42 160.37,541.38 158.95,541.34 157.53,541.29 156.11,541.25 154.68,541.20 153.26,541.15 151.84,541.10 150.42,541.05 149.00,541.00 147.58,540.94 146.16,540.89 144.74,540.83 143.32,540.77 141.90,540.71 140.48,540.65 139.06,540.58 137.64,540.51 136.21,540.44 134.79,540.37 133.37,540.29 131.95,540.21 130.53,540.13 129.11,540.04 127.69,539.96 126.27,539.86 124.85,539.77 123.43,539.67 122.01,539.56 120.59,539.45 119.16,539.34 117.74,539.22 116.32,539.09 114.90,538.96 113.48,538.82 112.06,538.67 110.64,538.52 109.22,538.36 107.80,538.19 106.38,538.01 104.96,537.81 103.54,537.61 102.12,537.39 100.69,537.16 99.27,536.91 97.85,536.65 96.43,536.37 95.01,536.06 93.59,535.73 92.17,535.38 90.75,534.99 89.33,534.57 87.91,534.11 86.49,533.61 85.07,533.06 83.64,532.44 82.22,531.75 80.80,530.99 79.38,530.12 77.96,529.13 76.54,528.00 75.12,526.68 73.80,525.26 72.67,523.84 71.68,522.42 70.81,521.00 70.05,519.58 69.36,518.16 68.74,516.73 68.19,515.31 67.69,513.89 67.23,512.47 66.81,511.05 66.42,509.63 66.07,508.21 65.74,506.79 65.43,505.37 65.15,503.95 64.89,502.53 64.64,501.11 64.41,499.68 64.19,498.26 63.99,496.84 63.79,495.42 63.61,494.00 63.44,492.58 63.28,491.16 63.13,489.74 62.98,488.32 62.84,486.90 62.71,485.48 62.58,484.06 62.46,482.64 62.35,481.21 62.24,479.79 62.13,478.37 62.03,476.95 61.94,475.53 61.84,474.11 61.76,472.69 61.67,471.27 61.59,469.85 61.51,468.43 61.43,467.01 61.36,465.59 61.29,464.16 61.22,462.74 61.15,461.32 61.09,459.90 61.03,458.48 60.97,457.06 60.91,455.64 60.86,454.22 60.80,452.80 60.75,451.38 60.70,449.96 60.65,448.54 60.60,447.12 60.55,445.69 60.51,444.27 60.46,442.85 60.42,441.43 60.38,440.01 60.34,438.59 60.30,437.17 60.26,435.75 60.22,434.33 60.19,432.91 60.15,431.49 60.12,430.07 60.08,428.64 60.05,427.22 60.02,425.80 59.99,424.38 59.96,422.96 59.93,421.54 59.90,420.12 59.87,418.70 59.84,417.28 59.81,415.86 59.79,414.44 59.76,413.02 59.73,411.60 59.71,410.17 59.68,408.75 59.66,407.33 59.64,405.91 59.61,404.49 59.59,403.07 59.57,401.65 59.55,400.23 59.53,398.81 59.50,397.39 59.48,395.97 59.46,394.55 59.44,393.12 59.43,391.70 59.41,390.28 59.39,388.86 59.37,387.44 59.35,386.02 59.33,384.60" fill="none" stroke="#A9A9A9" stroke-width="1.4" stroke-dasharray="5.45 5.45" stroke-dashoffset="0.0"/><polyline points="217.20,530.86 215.96,530.82 214.71,530.78 213.47,530.74 212.23,530.70 210.98,530.66 209.74,530.61 208.50,530.57 207.25,530.53 206.01,530.48 204.77,530.44 203.52,530.39 202.28,530.34 201.04,530.30 199.80,530.25 198.55,530.20 197.31,530.15 196.07,530.09 194.82,530.04 193.58,529.99 192.34,529.93 191.09,529.88 189.85,529.82 188.61,529.76 187.36,529.70 186.12,529.64 184.88,529.58 183.63,529.51 182.39,529.45 181.15,529.38 179.90,529.32 178.66,529.25 177.42,529.18 176.17,529.10 174.93,529.03 173.69,528.96 172.44,528.88 171.20,528.80 169.96,528.72 168.72,528.63 167.47,528.55 166.23,528.46 164.99,528.37 163.74,528.28 162.50,528.19 161.26,528.09 160.01,527.99 158.77,527.89 157.53,527.79 156.28,527.68 155.04,527.57 153.80,527.45 152.55,527.34 151.31,527.22 150.07,527.09 148.82,526.97 147.58,526.84 146.34,526.70 145.09,526.56 143.85,526.42 142.61,526.27 141.36,526.11 140.12,525.95 138.88,525.79 137.64,525.62 136.39,525.44 135.15,525.26 133.91,525.07 132.66,524.88 131.42,524.67 130.18,524.46 128.93,524.24 127.69,524.01 126.45,523.77 125.20,523.52 123.96,523.26 122.72,522.99 121.47,522.71 120.23,522.42 118.99,522.11 117.74,521.78 116.50,521.44 115.26,521.08 114.01,520.70 112.77,520.31 111.53,519.89 110.28,519.45 109.04,518.98 107.80,518.48 106.56,517.96 105.31,517.40 104.07,516.80 102.83,516.16 101.58,515.48 100.34,514.75 99.10,513.96 97.85,513.11 96.61,512.19 95.37,511.19 94.12,510.11 92.88,508.92 91.69,507.68 90.61,506.43 89.61,505.19 88.69,503.95 87.84,502.70 87.05,501.46 86.32,500.22 85.64,498.97 85.00,497.73 84.40,496.49 83.84,495.24 83.32,494.00 82.82,492.76 82.35,491.52 81.91,490.27 81.49,489.03 81.10,487.79 80.72,486.54 80.36,485.30 80.02,484.06 79.69,482.81 79.38,481.57 79.09,480.33 78.81,479.08 78.54,477.84 78.28,476.60 78.03,475.35 77.79,474.11 77.56,472.87 77.34,471.62 77.13,470.38 76.92,469.14 76.73,467.89 76.54,466.65 76.36,465.41 76.18,464.16 76.01,462.92 75.85,461.68 75.69,460.44 75.53,459.19 75.38,457.95 75.24,456.71 75.10,455.46 74.96,454.22 74.83,452.98 74.71,451.73 74.58,450.49 74.46,449.25 74.35,448.00 74.23,446.76 74.12,445.52 74.01,444.27 73.91,443.03 73.81,441.79 73.71,440.54 73.61,439.30 73.52,438.06 73.43,436.81 73.34,435.57 73.25,434.33 73.17,433.08 73.08,431.84 73.00,430.60 72.92,429.36 72.84,428.11 72.77,426.87 72.70,425.63 72.62,424.38 72.55,423.14 72.48,421.90 72.42,420.65 72.35,419.41 72.29,418.17 72.22,416.92 72.16,415.68 72.10,414.44 72.04,413.19 71.98,411.95 71.92,410.71 71.87,409.46 71.81,408.22 71.76,406.98 71.71,405.73 71.65,404.49 71.60,403.25 71.55,402.00 71.50,400.76 71.46,399.52 71.41,398.28 71.36,397.03 71.32,395.79 71.27,394.55 71.23,393.30 71.19,392.06 71.14,390.82 71.10,389.57 71.06,388.33 71.02,387.09 70.98,385.84 70.94,384.60" fill="none" stroke="#A9A9A9" stroke-width="1.4" stroke-dasharray="5.45 5.45" stroke-dashoffset="0.0"/><polyline points="217.20,517.80 216.13,517.73 215.07,517.66 214.00,517.60 212.94,517.53 211.87,517.45 210.81,517.38 209.74,517.31 208.68,517.23 207.61,517.16 206.54,517.08 205.48,517.00 204.41,516.92 203.35,516.84 202.28,516.76 201.22,516.67 200.15,516.59 199.08,516.50 198.02,516.41 196.95,516.32 195.89,516.23 194.82,516.14 193.76,516.05 192.69,515.95 191.63,515.85 190.56,515.75 189.49,515.65 188.43,515.55 187.36,515.44 186.30,515.33 185.23,515.22 184.17,515.11 183.10,515.00 182.04,514.88 180.97,514.76 179.90,514.64 178.84,514.52 177.77,514.39 176.71,514.26 175.64,514.13 174.58,513.99 173.51,513.86 172.44,513.72 171.38,513.57 170.31,513.43 169.25,513.28 168.18,513.12 167.12,512.97 166.05,512.81 164.99,512.64 163.92,512.47 162.85,512.30 161.79,512.12 160.72,511.94 159.66,511.76 158.59,511.57 157.53,511.37 156.46,511.17 155.40,510.96 154.33,510.75 153.26,510.53 152.20,510.31 151.13,510.08 150.07,509.85 149.00,509.60 147.94,509.35 146.87,509.10 145.80,508.83 144.74,508.56 143.67,508.28 142.61,507.99 141.54,507.69 140.48,507.38 139.41,507.06 138.35,506.72 137.28,506.38 136.21,506.03 135.15,505.66 134.08,505.28 133.02,504.89 131.95,504.48 130.89,504.06 129.82,503.62 128.76,503.16 127.69,502.68 126.62,502.18 125.56,501.67 124.49,501.13 123.43,500.56 122.36,499.97 121.30,499.36 120.23,498.71 119.16,498.03 118.10,497.32 117.03,496.58 115.97,495.79 114.90,494.97 113.84,494.09 112.77,493.17 111.71,492.19 110.64,491.16 109.61,490.09 108.63,489.03 107.71,487.96 106.83,486.90 106.01,485.83 105.22,484.77 104.48,483.70 103.77,482.64 103.09,481.57 102.44,480.50 101.83,479.44 101.24,478.37 100.67,477.31 100.13,476.24 99.62,475.18 99.12,474.11 98.64,473.04 98.18,471.98 97.74,470.91 97.32,469.85 96.91,468.78 96.52,467.72 96.14,466.65 95.77,465.59 95.42,464.52 95.08,463.45 94.74,462.39 94.42,461.32 94.11,460.26 93.81,459.19 93.52,458.13 93.24,457.06 92.97,456.00 92.70,454.93 92.45,453.86 92.20,452.80 91.95,451.73 91.72,450.67 91.49,449.60 91.27,448.54 91.05,447.47 90.84,446.40 90.63,445.34 90.43,444.27 90.23,443.21 90.04,442.14 89.86,441.08 89.68,440.01 89.50,438.95 89.33,437.88 89.16,436.81 89.00,435.75 88.83,434.68 88.68,433.62 88.52,432.55 88.37,431.49 88.23,430.42 88.08,429.36 87.94,428.29 87.81,427.22 87.67,426.16 87.54,425.09 87.41,424.03 87.28,422.96 87.16,421.90 87.04,420.83 86.92,419.76 86.80,418.70 86.69,417.63 86.58,416.57 86.47,415.50 86.36,414.44 86.25,413.37 86.15,412.31 86.05,411.24 85.95,410.17 85.85,409.11 85.75,408.04 85.66,406.98 85.57,405.91 85.48,404.85 85.39,403.78 85.30,402.72 85.21,401.65 85.13,400.58 85.04,399.52 84.96,398.45 84.88,397.39 84.80,396.32 84.72,395.26 84.64,394.19 84.57,393.12 84.49,392.06 84.42,390.99 84.35,389.93 84.27,388.86 84.20,387.80 84.14,386.73 84.07,385.67 84.00,384.60" fill="none" stroke="#A9A9A9" stroke-width="1.4" stroke-dasharray="5.45 5.45" stroke-dashoffset="0.0"/><polyline points="217.20,503.00 216.31,502.90 215.42,502.80 214.54,502.70 213.65,502.59 212.76,502.49 211.87,502.38 210.98,502.28 210.10,502.17 209.21,502.06 208.32,501.94 207.43,501.83 206.54,501.71 205.66,501.60 204.77,501.48 203.88,501.36 202.99,501.23 202.10,501.11 201.22,500.98 200.33,500.85 199.44,500.72 198.55,500.59 197.66,500.46 196.78,500.32 195.89,500.18 195.00,500.04 194.11,499.90 193.22,499.75 192.34,499.60 191.45,499.45 190.56,499.30 189.67,499.14 188.78,498.99 187.90,498.83 187.01,498.66 186.12,498.50 185.23,498.33 184.34,498.15 183.46,497.98 182.57,497.80 181.68,497.62 180.79,497.43 179.90,497.24 179.02,497.05 178.13,496.86 177.24,496.66 176.35,496.45 175.46,496.25 174.58,496.04 173.69,495.82 172.80,495.60 171.91,495.38 171.02,495.15 170.14,494.91 169.25,494.68 168.36,494.43 167.47,494.18 166.58,493.93 165.70,493.67 164.81,493.40 163.92,493.13 163.03,492.86 162.14,492.57 161.26,492.28 160.37,491.99 159.48,491.68 158.59,491.37 157.70,491.05 156.82,490.73 155.93,490.39 155.04,490.05 154.15,489.70 153.26,489.34 152.38,488.97 151.49,488.59 150.60,488.20 149.71,487.80 148.82,487.39 147.94,486.97 147.05,486.53 146.16,486.09 145.27,485.63 144.38,485.15 143.50,484.67 142.61,484.16 141.72,483.65 140.83,483.11 139.94,482.56 139.06,481.99 138.17,481.41 137.28,480.80 136.39,480.17 135.50,479.52 134.62,478.85 133.73,478.16 132.84,477.44 131.95,476.69 131.06,475.91 130.18,475.11 129.29,474.27 128.40,473.40 127.53,472.51 126.69,471.62 125.89,470.74 125.11,469.85 124.36,468.96 123.64,468.07 122.95,467.18 122.28,466.30 121.63,465.41 121.00,464.52 120.39,463.63 119.81,462.74 119.24,461.86 118.69,460.97 118.15,460.08 117.64,459.19 117.13,458.30 116.65,457.42 116.17,456.53 115.71,455.64 115.27,454.75 114.83,453.86 114.41,452.98 114.00,452.09 113.60,451.20 113.21,450.31 112.83,449.42 112.46,448.54 112.10,447.65 111.75,446.76 111.41,445.87 111.07,444.98 110.75,444.10 110.43,443.21 110.12,442.32 109.81,441.43 109.52,440.54 109.23,439.66 108.94,438.77 108.67,437.88 108.40,436.99 108.13,436.10 107.87,435.22 107.62,434.33 107.37,433.44 107.12,432.55 106.89,431.66 106.65,430.78 106.42,429.89 106.20,429.00 105.98,428.11 105.76,427.22 105.55,426.34 105.35,425.45 105.14,424.56 104.94,423.67 104.75,422.78 104.56,421.90 104.37,421.01 104.18,420.12 104.00,419.23 103.82,418.34 103.65,417.46 103.47,416.57 103.30,415.68 103.14,414.79 102.97,413.90 102.81,413.02 102.66,412.13 102.50,411.24 102.35,410.35 102.20,409.46 102.05,408.58 101.90,407.69 101.76,406.80 101.62,405.91 101.48,405.02 101.34,404.14 101.21,403.25 101.08,402.36 100.95,401.47 100.82,400.58 100.69,399.70 100.57,398.81 100.44,397.92 100.32,397.03 100.20,396.14 100.09,395.26 99.97,394.37 99.86,393.48 99.74,392.59 99.63,391.70 99.52,390.82 99.42,389.93 99.31,389.04 99.21,388.15 99.10,387.26 99.00,386.38 98.90,385.49 98.80,384.60" fill="none" stroke="#A9A9A9" stroke-width="1.4" stroke-dasharray="5.45 5.45" stroke-dashoffset="0.0"/><polyline points="217.20,486.09 216.49,485.95 215.78,485.82 215.07,485.69 214.36,485.55 213.65,485.41 212.94,485.28 212.23,485.13 211.52,484.99 210.81,484.85 210.10,484.70 209.39,484.55 208.68,484.40 207.96,484.25 207.25,484.10 206.54,483.95 205.83,483.79 205.12,483.63 204.41,483.47 203.70,483.30 202.99,483.14 202.28,482.97 201.57,482.80 200.86,482.63 200.15,482.46 199.44,482.28 198.73,482.10 198.02,481.92 197.31,481.74 196.60,481.55 195.89,481.36 195.18,481.17 194.47,480.98 193.76,480.78 193.05,480.58 192.34,480.38 191.63,480.17 190.92,479.96 190.20,479.75 189.49,479.54 188.78,479.32 188.07,479.10 187.36,478.87 186.65,478.65 185.94,478.42 185.23,478.18 184.52,477.94 183.81,477.70 183.10,477.46 182.39,477.21 181.68,476.95 180.97,476.69 180.26,476.43 179.55,476.17 178.84,475.90 178.13,475.62 177.42,475.34 176.71,475.06 176.00,474.77 175.29,474.47 174.58,474.17 173.87,473.87 173.16,473.56 172.44,473.24 171.73,472.92 171.02,472.59 170.31,472.26 169.60,471.92 168.89,471.57 168.18,471.22 167.47,470.86 166.76,470.50 166.05,470.12 165.34,469.74 164.63,469.36 163.92,468.96 163.21,468.56 162.50,468.14 161.79,467.72 161.08,467.30 160.37,466.86 159.66,466.41 158.95,465.95 158.24,465.49 157.53,465.01 156.82,464.52 156.11,464.02 155.40,463.51 154.68,462.99 153.97,462.45 153.26,461.91 152.55,461.35 151.84,460.78 151.13,460.19 150.42,459.59 149.71,458.97 149.00,458.34 148.29,457.69 147.58,457.02 146.87,456.34 146.16,455.64 145.46,454.93 144.78,454.22 144.11,453.51 143.46,452.80 142.83,452.09 142.21,451.38 141.61,450.67 141.02,449.96 140.45,449.25 139.89,448.54 139.35,447.83 138.81,447.12 138.29,446.40 137.78,445.69 137.28,444.98 136.79,444.27 136.31,443.56 135.85,442.85 135.39,442.14 134.94,441.43 134.50,440.72 134.08,440.01 133.66,439.30 133.24,438.59 132.84,437.88 132.44,437.17 132.06,436.46 131.68,435.75 131.30,435.04 130.94,434.33 130.58,433.62 130.23,432.91 129.88,432.20 129.54,431.49 129.21,430.78 128.88,430.07 128.56,429.36 128.24,428.64 127.93,427.93 127.63,427.22 127.33,426.51 127.03,425.80 126.74,425.09 126.46,424.38 126.18,423.67 125.90,422.96 125.63,422.25 125.37,421.54 125.11,420.83 124.85,420.12 124.59,419.41 124.34,418.70 124.10,417.99 123.86,417.28 123.62,416.57 123.38,415.86 123.15,415.15 122.93,414.44 122.70,413.73 122.48,413.02 122.26,412.31 122.05,411.60 121.84,410.88 121.63,410.17 121.42,409.46 121.22,408.75 121.02,408.04 120.82,407.33 120.63,406.62 120.44,405.91 120.25,405.20 120.06,404.49 119.88,403.78 119.70,403.07 119.52,402.36 119.34,401.65 119.17,400.94 119.00,400.23 118.83,399.52 118.66,398.81 118.50,398.10 118.33,397.39 118.17,396.68 118.01,395.97 117.86,395.26 117.70,394.55 117.55,393.84 117.40,393.12 117.25,392.41 117.10,391.70 116.95,390.99 116.81,390.28 116.67,389.57 116.52,388.86 116.39,388.15 116.25,387.44 116.11,386.73 115.98,386.02 115.85,385.31 115.71,384.60" fill="none" stroke="#A9A9A9" stroke-width="1.4" stroke-dasharray="5.45 5.45" stroke-dashoffset="0.0"/><polyline points="217.20,466.57 216.67,466.41 216.13,466.26 215.60,466.10 215.07,465.94 214.54,465.78 214.00,465.62 213.47,465.45 212.94,465.29 212.40,465.12 211.87,464.95 211.34,464.78 210.81,464.61 210.27,464.43 209.74,464.26 209.21,464.08 208.68,463.90 208.14,463.72 207.61,463.54 207.08,463.35 206.54,463.17 206.01,462.98 205.48,462.79 204.95,462.59 204.41,462.40 203.88,462.20 203.35,462.01 202.81,461.80 202.28,461.60 201.75,461.40 201.22,461.19 200.68,460.98 200.15,460.77 199.62,460.56 199.08,460.34 198.55,460.12 198.02,459.90 197.49,459.68 196.95,459.45 196.42,459.22 195.89,458.99 195.36,458.76 194.82,458.52 194.29,458.28 193.76,458.04 193.22,457.80 192.69,457.55 192.16,457.30 191.63,457.04 191.09,456.79 190.56,456.53 190.03,456.27 189.49,456.00 188.96,455.73 188.43,455.46 187.90,455.18 187.36,454.90 186.83,454.62 186.30,454.33 185.76,454.04 185.23,453.75 184.70,453.45 184.17,453.15 183.63,452.85 183.10,452.54 182.57,452.22 182.04,451.91 181.50,451.59 180.97,451.26 180.44,450.93 179.90,450.59 179.37,450.26 178.84,449.91 178.31,449.56 177.77,449.21 177.24,448.85 176.71,448.49 176.17,448.12 175.64,447.74 175.11,447.36 174.58,446.98 174.04,446.59 173.51,446.19 172.98,445.79 172.44,445.38 171.91,444.96 171.38,444.54 170.85,444.11 170.31,443.68 169.78,443.24 169.25,442.79 168.72,442.33 168.18,441.87 167.65,441.40 167.12,440.92 166.58,440.43 166.05,439.94 165.52,439.44 164.99,438.93 164.45,438.41 163.92,437.88 163.39,437.35 162.87,436.81 162.36,436.28 161.86,435.75 161.37,435.22 160.88,434.68 160.40,434.15 159.93,433.62 159.47,433.08 159.01,432.55 158.56,432.02 158.12,431.49 157.69,430.95 157.26,430.42 156.84,429.89 156.42,429.36 156.01,428.82 155.61,428.29 155.21,427.76 154.82,427.22 154.44,426.69 154.06,426.16 153.68,425.63 153.31,425.09 152.95,424.56 152.59,424.03 152.24,423.49 151.89,422.96 151.54,422.43 151.21,421.90 150.87,421.36 150.54,420.83 150.21,420.30 149.89,419.76 149.58,419.23 149.26,418.70 148.95,418.17 148.65,417.63 148.35,417.10 148.05,416.57 147.76,416.04 147.47,415.50 147.18,414.97 146.90,414.44 146.62,413.90 146.34,413.37 146.07,412.84 145.80,412.31 145.53,411.77 145.27,411.24 145.01,410.71 144.76,410.17 144.50,409.64 144.25,409.11 144.00,408.58 143.76,408.04 143.52,407.51 143.28,406.98 143.04,406.44 142.81,405.91 142.58,405.38 142.35,404.85 142.12,404.31 141.90,403.78 141.68,403.25 141.46,402.72 141.24,402.18 141.03,401.65 140.82,401.12 140.61,400.58 140.40,400.05 140.20,399.52 140.00,398.99 139.79,398.45 139.60,397.92 139.40,397.39 139.21,396.85 139.01,396.32 138.82,395.79 138.63,395.26 138.45,394.72 138.26,394.19 138.08,393.66 137.90,393.12 137.72,392.59 137.54,392.06 137.37,391.53 137.19,390.99 137.02,390.46 136.85,389.93 136.68,389.40 136.51,388.86 136.35,388.33 136.18,387.80 136.02,387.26 135.86,386.73 135.70,386.20 135.54,385.67 135.39,385.13 135.23,384.60" fill="none" stroke="#A9A9A9" stroke-width="1.4" stroke-dasharray="5.45 5.45" stroke-dashoffset="0.0"/><polyline points="217.20,443.80 216.84,443.64 216.49,443.48 216.13,443.32 215.78,443.16 215.42,443.00 215.07,442.83 214.71,442.67 214.36,442.50 214.00,442.34 213.65,442.17 213.29,442.00 212.94,441.83 212.58,441.65 212.23,441.48 211.87,441.31 211.52,441.13 211.16,440.96 210.81,440.78 210.45,440.60 210.10,440.42 209.74,440.24 209.39,440.05 209.03,439.87 208.68,439.68 208.32,439.49 207.96,439.31 207.61,439.12 207.25,438.92 206.90,438.73 206.54,438.54 206.19,438.34 205.83,438.15 205.48,437.95 205.12,437.75 204.77,437.54 204.41,437.34 204.06,437.14 203.70,436.93 203.35,436.72 202.99,436.51 202.64,436.30 202.28,436.09 201.93,435.88 201.57,435.66 201.22,435.44 200.86,435.22 200.51,435.00 200.15,434.78 199.80,434.55 199.44,434.33 199.08,434.10 198.73,433.87 198.37,433.64 198.02,433.40 197.66,433.17 197.31,432.93 196.95,432.69 196.60,432.45 196.24,432.21 195.89,431.96 195.53,431.71 195.18,431.46 194.82,431.21 194.47,430.96 194.11,430.70 193.76,430.44 193.40,430.18 193.05,429.92 192.69,429.65 192.34,429.39 191.98,429.12 191.63,428.84 191.27,428.57 190.92,428.29 190.56,428.01 190.20,427.73 189.85,427.45 189.49,427.16 189.14,426.87 188.78,426.58 188.43,426.28 188.07,425.99 187.72,425.69 187.36,425.38 187.01,425.08 186.65,424.77 186.30,424.46 185.94,424.14 185.59,423.82 185.23,423.50 184.88,423.18 184.52,422.85 184.17,422.52 183.81,422.19 183.46,421.85 183.10,421.51 182.75,421.17 182.39,420.82 182.04,420.47 181.68,420.12 181.33,419.76 180.98,419.41 180.63,419.05 180.29,418.70 179.95,418.34 179.61,417.99 179.28,417.63 178.95,417.28 178.62,416.92 178.30,416.57 177.98,416.21 177.66,415.86 177.34,415.50 177.03,415.15 176.72,414.79 176.42,414.44 176.11,414.08 175.81,413.73 175.52,413.37 175.22,413.02 174.93,412.66 174.64,412.31 174.35,411.95 174.07,411.60 173.79,411.24 173.51,410.88 173.23,410.53 172.96,410.17 172.68,409.82 172.41,409.46 172.15,409.11 171.88,408.75 171.62,408.40 171.36,408.04 171.10,407.69 170.84,407.33 170.59,406.98 170.34,406.62 170.09,406.27 169.84,405.91 169.59,405.56 169.35,405.20 169.11,404.85 168.87,404.49 168.63,404.14 168.40,403.78 168.16,403.43 167.93,403.07 167.70,402.72 167.47,402.36 167.25,402.00 167.02,401.65 166.80,401.29 166.58,400.94 166.36,400.58 166.14,400.23 165.92,399.87 165.71,399.52 165.50,399.16 165.29,398.81 165.08,398.45 164.87,398.10 164.66,397.74 164.46,397.39 164.26,397.03 164.05,396.68 163.85,396.32 163.65,395.97 163.46,395.61 163.26,395.26 163.07,394.90 162.88,394.55 162.68,394.19 162.49,393.84 162.31,393.48 162.12,393.12 161.93,392.77 161.75,392.41 161.56,392.06 161.38,391.70 161.20,391.35 161.02,390.99 160.84,390.64 160.67,390.28 160.49,389.93 160.32,389.57 160.15,389.22 159.97,388.86 159.80,388.51 159.63,388.15 159.46,387.80 159.30,387.44 159.13,387.09 158.97,386.73 158.80,386.38 158.64,386.02 158.48,385.67 158.32,385.31 158.16,384.96 158.00,384.60" fill="none" stroke="#A9A9A9" stroke-width="1.4" stroke-dasharray="5.45 5.45" stroke-dashoffset="0.0"/><polyline points="217.20,416.89 217.02,416.77 216.84,416.65 216.67,416.53 216.49,416.41 216.31,416.29 216.13,416.17 215.96,416.05 215.78,415.93 215.60,415.80 215.42,415.68 215.25,415.56 215.07,415.43 214.89,415.31 214.71,415.18 214.54,415.06 214.36,414.93 214.18,414.81 214.00,414.68 213.83,414.55 213.65,414.42 213.47,414.30 213.29,414.17 213.12,414.04 212.94,413.91 212.76,413.78 212.58,413.65 212.40,413.52 212.23,413.38 212.05,413.25 211.87,413.12 211.69,412.99 211.52,412.85 211.34,412.72 211.16,412.58 210.98,412.45 210.81,412.31 210.63,412.17 210.45,412.04 210.27,411.90 210.10,411.76 209.92,411.62 209.74,411.48 209.56,411.35 209.39,411.20 209.21,411.06 209.03,410.92 208.85,410.78 208.68,410.64 208.50,410.50 208.32,410.35 208.14,410.21 207.96,410.06 207.79,409.92 207.61,409.77 207.43,409.63 207.25,409.48 207.08,409.33 206.90,409.18 206.72,409.03 206.54,408.88 206.37,408.73 206.19,408.58 206.01,408.43 205.83,408.28 205.66,408.13 205.48,407.97 205.30,407.82 205.12,407.67 204.95,407.51 204.77,407.36 204.59,407.20 204.41,407.04 204.24,406.88 204.06,406.73 203.88,406.57 203.70,406.41 203.52,406.25 203.35,406.09 203.17,405.92 202.99,405.76 202.81,405.60 202.64,405.43 202.46,405.27 202.28,405.10 202.10,404.94 201.93,404.77 201.75,404.60 201.57,404.44 201.39,404.27 201.22,404.10 201.04,403.93 200.86,403.76 200.68,403.58 200.51,403.41 200.33,403.24 200.15,403.06 199.97,402.89 199.80,402.71 199.62,402.54 199.44,402.36 199.26,402.18 199.09,402.00 198.91,401.83 198.74,401.65 198.56,401.47 198.39,401.29 198.22,401.12 198.04,400.94 197.87,400.76 197.70,400.58 197.53,400.41 197.36,400.23 197.20,400.05 197.03,399.87 196.86,399.70 196.70,399.52 196.53,399.34 196.37,399.16 196.20,398.99 196.04,398.81 195.88,398.63 195.71,398.45 195.55,398.28 195.39,398.10 195.23,397.92 195.07,397.74 194.92,397.56 194.76,397.39 194.60,397.21 194.44,397.03 194.29,396.85 194.13,396.68 193.98,396.50 193.83,396.32 193.67,396.14 193.52,395.97 193.37,395.79 193.22,395.61 193.07,395.43 192.92,395.26 192.77,395.08 192.62,394.90 192.47,394.72 192.32,394.55 192.17,394.37 192.03,394.19 191.88,394.01 191.74,393.84 191.59,393.66 191.45,393.48 191.30,393.30 191.16,393.12 191.02,392.95 190.88,392.77 190.74,392.59 190.60,392.41 190.45,392.24 190.32,392.06 190.18,391.88 190.04,391.70 189.90,391.53 189.76,391.35 189.63,391.17 189.49,390.99 189.35,390.82 189.22,390.64 189.08,390.46 188.95,390.28 188.81,390.11 188.68,389.93 188.55,389.75 188.42,389.57 188.28,389.40 188.15,389.22 188.02,389.04 187.89,388.86 187.76,388.68 187.63,388.51 187.50,388.33 187.38,388.15 187.25,387.97 187.12,387.80 186.99,387.62 186.87,387.44 186.74,387.26 186.62,387.09 186.49,386.91 186.37,386.73 186.24,386.55 186.12,386.38 186.00,386.20 185.87,386.02 185.75,385.84 185.63,385.67 185.51,385.49 185.39,385.31 185.27,385.13 185.15,384.96 185.03,384.78 184.91,384.60" fill="none" stroke="#A9A9A9" stroke-width="1.4" stroke-dasharray="5.45 5.45" stroke-dashoffset="0.0"/></g>
<rect x="31.00" y="376.00" width="194.90" height="194.90" fill="none" stroke="none" stroke-width="1.2"/>
<line x1="39.60" y1="570.90" x2="39.60" y2="573.10" stroke="#333333" stroke-width="1"/>
<line x1="28.80" y1="562.20" x2="31.00" y2="562.20" stroke="#333333" stroke-width="1"/>
<text x="39.60" y="578.80" font-size="6.35" text-anchor="middle" fill="#4D4D4D" font-weight="normal" font-style="normal" >0.00</text>
<text x="27.40" y="564.89" font-size="6.35" text-anchor="end" fill="#4D4D4D" font-weight="normal" font-style="normal" >0.00</text>
<line x1="84.00" y1="570.90" x2="84.00" y2="573.10" stroke="#333333" stroke-width="1"/>
<line x1="28.80" y1="517.80" x2="31.00" y2="517.80" stroke="#333333" stroke-width="1"/>
<text x="84.00" y="578.80" font-size="6.35" text-anchor="middle" fill="#4D4D4D" font-weight="normal" font-style="normal" >0.25</text>
<text x="27.40" y="520.49" font-size="6.35" text-anchor="end" fill="#4D4D4D" font-weight="normal" font-style="normal" >0.25</text>
<line x1="128.40" y1="570.90" x2="128.40" y2="573.10" stroke="#333333" stroke-width="1"/>
<line x1="28.80" y1="473.40" x2="31.00" y2="473.40" stroke="#333333" stroke-width="1"/>
<text x="128.40" y="578.80" font-size="6.35" text-anchor="middle" fill="#4D4D4D" font-weight="normal" font-style="normal" >0.50</text>
<text x="27.40" y="476.09" font-size="6.35" text-anchor="end" fill="#4D4D4D" font-weight="normal" font-style="normal" >0.50</text>
<line x1="172.80" y1="570.90" x2="172.80" y2="573.10" stroke="#333333" stroke-width="1"/>
<line x1="28.80" y1="429.00" x2="31.00" y2="429.00" stroke="#333333" stroke-width="1"/>
<text x="172.80" y="578.80" font-size="6.35" text-anchor="middle" fill="#4D4D4D" font-weight="normal" font-style="normal" >0.75</text>
<text x="27.40" y="431.69" font-size="6.35" text-anchor="end" fill="#4D4D4D" font-weight="normal" font-style="normal" >0.75</text>
<line x1="217.20" y1="570.90" x2="217.20" y2="573.10" stroke="#333333" stroke-width="1"/>
<line x1="28.80" y1="384.60" x2="31.00" y2="384.60" stroke="#333333" stroke-width="1"/>
<text x="217.20" y="578.80" font-size="6.35" text-anchor="middle" fill="#4D4D4D" font-weight="normal" font-style="normal" >1.00</text>
<text x="27.40" y="387.29" font-size="6.35" text-anchor="end" fill="#4D4D4D" font-weight="normal" font-style="normal" >1.00</text>
<text x="128.45" y="588.80" font-size="7.85" text-anchor="middle" fill="#000" font-weight="normal" font-style="normal" >Recall</text>
<text x="11.00" y="473.45" font-size="7.85" text-anchor="middle" fill="#000" font-weight="normal" font-style="normal" transform="rotate(-90 11.00 473.45)">Precision</text>
<rect x="30.75" y="376.0" width="195.00" height="194.8" fill="none" stroke="#606060" stroke-width="1.35"/>
<text x="32.85" y="366.70" font-size="9.45" text-anchor="start" fill="#000" font-weight="normal" font-style="normal" >Performance at different cutoff and ratio for L1</text>
<clipPath id="cp1"><rect x="260.30" y="376.00" width="194.90" height="194.90"/></clipPath>
<g clip-path="url(#cp1)"><polyline points="446.50,552.85 444.90,552.85 443.30,552.84 441.70,552.84 440.11,552.83 438.51,552.83 436.91,552.82 435.31,552.82 433.71,552.81 432.11,552.81 430.52,552.80 428.92,552.80 427.32,552.79 425.72,552.79 424.12,552.78 422.52,552.78 420.93,552.77 419.33,552.76 417.73,552.76 416.13,552.75 414.53,552.74 412.93,552.74 411.34,552.73 409.74,552.72 408.14,552.72 406.54,552.71 404.94,552.70 403.34,552.69 401.74,552.68 400.15,552.68 398.55,552.67 396.95,552.66 395.35,552.65 393.75,552.64 392.15,552.63 390.56,552.62 388.96,552.61 387.36,552.60 385.76,552.59 384.16,552.58 382.56,552.57 380.97,552.56 379.37,552.54 377.77,552.53 376.17,552.52 374.57,552.51 372.97,552.49 371.38,552.48 369.78,552.46 368.18,552.45 366.58,552.43 364.98,552.42 363.38,552.40 361.78,552.38 360.19,552.36 358.59,552.34 356.99,552.32 355.39,552.30 353.79,552.28 352.19,552.26 350.60,552.24 349.00,552.21 347.40,552.19 345.80,552.16 344.20,552.13 342.60,552.10 341.01,552.07 339.41,552.04 337.81,552.01 336.21,551.97 334.61,551.93 333.01,551.89 331.42,551.85 329.82,551.80 328.22,551.76 326.62,551.71 325.02,551.65 323.42,551.59 321.82,551.53 320.23,551.46 318.63,551.39 317.03,551.31 315.43,551.23 313.83,551.13 312.23,551.03 310.64,550.92 309.04,550.80 307.44,550.66 305.84,550.51 304.24,550.34 302.64,550.15 301.05,549.93 299.45,549.68 297.85,549.39 296.25,549.05 294.65,548.65 293.05,548.16 291.46,547.55 289.86,546.79 288.26,545.79 286.66,544.44 285.31,542.84 284.31,541.24 283.55,539.64 282.94,538.05 282.45,536.45 282.05,534.85 281.71,533.25 281.42,531.65 281.17,530.05 280.95,528.46 280.76,526.86 280.59,525.26 280.44,523.66 280.30,522.06 280.18,520.46 280.07,518.87 279.97,517.27 279.87,515.67 279.79,514.07 279.71,512.47 279.64,510.87 279.57,509.28 279.51,507.68 279.45,506.08 279.39,504.48 279.34,502.88 279.30,501.28 279.25,499.68 279.21,498.09 279.17,496.49 279.13,494.89 279.09,493.29 279.06,491.69 279.03,490.09 279.00,488.50 278.97,486.90 278.94,485.30 278.91,483.70 278.89,482.10 278.86,480.50 278.84,478.91 278.82,477.31 278.80,475.71 278.78,474.11 278.76,472.51 278.74,470.91 278.72,469.32 278.70,467.72 278.68,466.12 278.67,464.52 278.65,462.92 278.64,461.32 278.62,459.72 278.61,458.13 278.59,456.53 278.58,454.93 278.57,453.33 278.56,451.73 278.54,450.13 278.53,448.54 278.52,446.94 278.51,445.34 278.50,443.74 278.49,442.14 278.48,440.54 278.47,438.95 278.46,437.35 278.45,435.75 278.44,434.15 278.43,432.55 278.42,430.95 278.42,429.36 278.41,427.76 278.40,426.16 278.39,424.56 278.38,422.96 278.38,421.36 278.37,419.76 278.36,418.17 278.36,416.57 278.35,414.97 278.34,413.37 278.34,411.77 278.33,410.17 278.32,408.58 278.32,406.98 278.31,405.38 278.31,403.78 278.30,402.18 278.30,400.58 278.29,398.99 278.29,397.39 278.28,395.79 278.28,394.19 278.27,392.59 278.27,390.99 278.26,389.40 278.26,387.80 278.25,386.20 278.25,384.60" fill="none" stroke="#A9A9A9" stroke-width="1.4" stroke-dasharray="5.45 5.45" stroke-dashoffset="0.0"/><polyline points="446.50,542.47 445.08,542.45 443.66,542.43 442.24,542.41 440.82,542.39 439.40,542.37 437.98,542.36 436.55,542.34 435.13,542.32 433.71,542.30 432.29,542.27 430.87,542.25 429.45,542.23 428.03,542.21 426.61,542.19 425.19,542.16 423.77,542.14 422.35,542.12 420.93,542.09 419.50,542.07 418.08,542.04 416.66,542.01 415.24,541.99 413.82,541.96 412.40,541.93 410.98,541.90 409.56,541.87 408.14,541.84 406.72,541.81 405.30,541.78 403.88,541.75 402.46,541.72 401.03,541.68 399.61,541.65 398.19,541.61 396.77,541.58 395.35,541.54 393.93,541.50 392.51,541.46 391.09,541.42 389.67,541.38 388.25,541.34 386.83,541.29 385.41,541.25 383.98,541.20 382.56,541.15 381.14,541.10 379.72,541.05 378.30,541.00 376.88,540.94 375.46,540.89 374.04,540.83 372.62,540.77 371.20,540.71 369.78,540.65 368.36,540.58 366.94,540.51 365.51,540.44 364.09,540.37 362.67,540.29 361.25,540.21 359.83,540.13 358.41,540.04 356.99,539.96 355.57,539.86 354.15,539.77 352.73,539.67 351.31,539.56 349.89,539.45 348.46,539.34 347.04,539.22 345.62,539.09 344.20,538.96 342.78,538.82 341.36,538.67 339.94,538.52 338.52,538.36 337.10,538.19 335.68,538.01 334.26,537.81 332.84,537.61 331.42,537.39 329.99,537.16 328.57,536.91 327.15,536.65 325.73,536.37 324.31,536.06 322.89,535.73 321.47,535.38 320.05,534.99 318.63,534.57 317.21,534.11 315.79,533.61 314.37,533.06 312.94,532.44 311.52,531.75 310.10,530.99 308.68,530.12 307.26,529.13 305.84,528.00 304.42,526.68 303.10,525.26 301.97,523.84 300.98,522.42 300.11,521.00 299.35,519.58 298.66,518.16 298.04,516.73 297.49,515.31 296.99,513.89 296.53,512.47 296.11,511.05 295.72,509.63 295.37,508.21 295.04,506.79 294.73,505.37 294.45,503.95 294.19,502.53 293.94,501.11 293.71,499.68 293.49,498.26 293.29,496.84 293.09,495.42 292.91,494.00 292.74,492.58 292.58,491.16 292.43,489.74 292.28,488.32 292.14,486.90 292.01,485.48 291.88,484.06 291.76,482.64 291.65,481.21 291.54,479.79 291.43,478.37 291.33,476.95 291.24,475.53 291.14,474.11 291.06,472.69 290.97,471.27 290.89,469.85 290.81,468.43 290.73,467.01 290.66,465.59 290.59,464.16 290.52,462.74 290.45,461.32 290.39,459.90 290.33,458.48 290.27,457.06 290.21,455.64 290.16,454.22 290.10,452.80 290.05,451.38 290.00,449.96 289.95,448.54 289.90,447.12 289.85,445.69 289.81,444.27 289.76,442.85 289.72,441.43 289.68,440.01 289.64,438.59 289.60,437.17 289.56,435.75 289.52,434.33 289.49,432.91 289.45,431.49 289.42,430.07 289.38,428.64 289.35,427.22 289.32,425.80 289.29,424.38 289.26,422.96 289.23,421.54 289.20,420.12 289.17,418.70 289.14,417.28 289.11,415.86 289.09,414.44 289.06,413.02 289.03,411.60 289.01,410.17 288.98,408.75 288.96,407.33 288.94,405.91 288.91,404.49 288.89,403.07 288.87,401.65 288.85,400.23 288.83,398.81 288.80,397.39 288.78,395.97 288.76,394.55 288.74,393.12 288.73,391.70 288.71,390.28 288.69,388.86 288.67,387.44 288.65,386.02 288.63,384.60" fill="none" stroke="#A9A9A9" stroke-width="1.4" stroke-dasharray="5.45 5.45" stroke-dashoffset="0.0"/><polyline points="446.50,530.86 445.26,530.82 444.01,530.78 442.77,530.74 441.53,530.70 440.28,530.66 439.04,530.61 437.80,530.57 436.55,530.53 435.31,530.48 434.07,530.44 432.82,530.39 431.58,530.34 430.34,530.30 429.10,530.25 427.85,530.20 426.61,530.15 425.37,530.09 424.12,530.04 422.88,529.99 421.64,529.93 420.39,529.88 419.15,529.82 417.91,529.76 416.66,529.70 415.42,529.64 414.18,529.58 412.93,529.51 411.69,529.45 410.45,529.38 409.20,529.32 407.96,529.25 406.72,529.18 405.47,529.10 404.23,529.03 402.99,528.96 401.74,528.88 400.50,528.80 399.26,528.72 398.02,528.63 396.77,528.55 395.53,528.46 394.29,528.37 393.04,528.28 391.80,528.19 390.56,528.09 389.31,527.99 388.07,527.89 386.83,527.79 385.58,527.68 384.34,527.57 383.10,527.45 381.85,527.34 380.61,527.22 379.37,527.09 378.12,526.97 376.88,526.84 375.64,526.70 374.39,526.56 373.15,526.42 371.91,526.27 370.66,526.11 369.42,525.95 368.18,525.79 366.94,525.62 365.69,525.44 364.45,525.26 363.21,525.07 361.96,524.88 360.72,524.67 359.48,524.46 358.23,524.24 356.99,524.01 355.75,523.77 354.50,523.52 353.26,523.26 352.02,522.99 350.77,522.71 349.53,522.42 348.29,522.11 347.04,521.78 345.80,521.44 344.56,521.08 343.31,520.70 342.07,520.31 340.83,519.89 339.58,519.45 338.34,518.98 337.10,518.48 335.86,517.96 334.61,517.40 333.37,516.80 332.13,516.16 330.88,515.48 329.64,514.75 328.40,513.96 327.15,513.11 325.91,512.19 324.67,511.19 323.42,510.11 322.18,508.92 320.99,507.68 319.91,506.43 318.91,505.19 317.99,503.95 317.14,502.70 316.35,501.46 315.62,500.22 314.94,498.97 314.30,497.73 313.70,496.49 313.14,495.24 312.62,494.00 312.12,492.76 311.65,491.52 311.21,490.27 310.79,489.03 310.40,487.79 310.02,486.54 309.66,485.30 309.32,484.06 308.99,482.81 308.68,481.57 308.39,480.33 308.11,479.08 307.84,477.84 307.58,476.60 307.33,475.35 307.09,474.11 306.86,472.87 306.64,471.62 306.43,470.38 306.22,469.14 306.03,467.89 305.84,466.65 305.66,465.41 305.48,464.16 305.31,462.92 305.15,461.68 304.99,460.44 304.83,459.19 304.68,457.95 304.54,456.71 304.40,455.46 304.26,454.22 304.13,452.98 304.01,451.73 303.88,450.49 303.76,449.25 303.65,448.00 303.53,446.76 303.42,445.52 303.31,444.27 303.21,443.03 303.11,441.79 303.01,440.54 302.91,439.30 302.82,438.06 302.73,436.81 302.64,435.57 302.55,434.33 302.47,433.08 302.38,431.84 302.30,430.60 302.22,429.36 302.14,428.11 302.07,426.87 302.00,425.63 301.92,424.38 301.85,423.14 301.78,421.90 301.72,420.65 301.65,419.41 301.59,418.17 301.52,416.92 301.46,415.68 301.40,414.44 301.34,413.19 301.28,411.95 301.22,410.71 301.17,409.46 301.11,408.22 301.06,406.98 301.01,405.73 300.95,404.49 300.90,403.25 300.85,402.00 300.80,400.76 300.76,399.52 300.71,398.28 300.66,397.03 300.62,395.79 300.57,394.55 300.53,393.30 300.49,392.06 300.44,390.82 300.40,389.57 300.36,388.33 300.32,387.09 300.28,385.84 300.24,384.60" fill="none" stroke="#A9A9A9" stroke-width="1.4" stroke-dasharray="5.45 5.45" stroke-dashoffset="0.0"/><polyline points="446.50,517.80 445.43,517.73 444.37,517.66 443.30,517.60 442.24,517.53 441.17,517.45 440.11,517.38 439.04,517.31 437.98,517.23 436.91,517.16 435.84,517.08 434.78,517.00 433.71,516.92 432.65,516.84 431.58,516.76 430.52,516.67 429.45,516.59 428.38,516.50 427.32,516.41 426.25,516.32 425.19,516.23 424.12,516.14 423.06,516.05 421.99,515.95 420.93,515.85 419.86,515.75 418.79,515.65 417.73,515.55 416.66,515.44 415.60,515.33 414.53,515.22 413.47,515.11 412.40,515.00 411.34,514.88 410.27,514.76 409.20,514.64 408.14,514.52 407.07,514.39 406.01,514.26 404.94,514.13 403.88,513.99 402.81,513.86 401.74,513.72 400.68,513.57 399.61,513.43 398.55,513.28 397.48,513.12 396.42,512.97 395.35,512.81 394.29,512.64 393.22,512.47 392.15,512.30 391.09,512.12 390.02,511.94 388.96,511.76 387.89,511.57 386.83,511.37 385.76,511.17 384.70,510.96 383.63,510.75 382.56,510.53 381.50,510.31 380.43,510.08 379.37,509.85 378.30,509.60 377.24,509.35 376.17,509.10 375.10,508.83 374.04,508.56 372.97,508.28 371.91,507.99 370.84,507.69 369.78,507.38 368.71,507.06 367.65,506.72 366.58,506.38 365.51,506.03 364.45,505.66 363.38,505.28 362.32,504.89 361.25,504.48 360.19,504.06 359.12,503.62 358.06,503.16 356.99,502.68 355.92,502.18 354.86,501.67 353.79,501.13 352.73,500.56 351.66,499.97 350.60,499.36 349.53,498.71 348.46,498.03 347.40,497.32 346.33,496.58 345.27,495.79 344.20,494.97 343.14,494.09 342.07,493.17 341.01,492.19 339.94,491.16 338.91,490.09 337.93,489.03 337.01,487.96 336.13,486.90 335.31,485.83 334.52,484.77 333.78,483.70 333.07,482.64 332.39,481.57 331.74,480.50 331.13,479.44 330.54,478.37 329.97,477.31 329.43,476.24 328.92,475.18 328.42,474.11 327.94,473.04 327.48,471.98 327.04,470.91 326.62,469.85 326.21,468.78 325.82,467.72 325.44,466.65 325.07,465.59 324.72,464.52 324.38,463.45 324.04,462.39 323.72,461.32 323.41,460.26 323.11,459.19 322.82,458.13 322.54,457.06 322.27,456.00 322.00,454.93 321.75,453.86 321.50,452.80 321.25,451.73 321.02,450.67 320.79,449.60 320.57,448.54 320.35,447.47 320.14,446.40 319.93,445.34 319.73,444.27 319.53,443.21 319.34,442.14 319.16,441.08 318.98,440.01 318.80,438.95 318.63,437.88 318.46,436.81 318.30,435.75 318.13,434.68 317.98,433.62 317.82,432.55 317.67,431.49 317.53,430.42 317.38,429.36 317.24,428.29 317.11,427.22 316.97,426.16 316.84,425.09 316.71,424.03 316.58,422.96 316.46,421.90 316.34,420.83 316.22,419.76 316.10,418.70 315.99,417.63 315.88,416.57 315.77,415.50 315.66,414.44 315.55,413.37 315.45,412.31 315.35,411.24 315.25,410.17 315.15,409.11 315.05,408.04 314.96,406.98 314.87,405.91 314.78,404.85 314.69,403.78 314.60,402.72 314.51,401.65 314.43,400.58 314.34,399.52 314.26,398.45 314.18,397.39 314.10,396.32 314.02,395.26 313.94,394.19 313.87,393.12 313.79,392.06 313.72,390.99 313.65,389.93 313.57,388.86 313.50,387.80 313.44,386.73 313.37,385.67 313.30,384.60" fill="none" stroke="#A9A9A9" stroke-width="1.4" stroke-dasharray="5.45 5.45" stroke-dashoffset="0.0"/><polyline points="446.50,503.00 445.61,502.90 444.72,502.80 443.84,502.70 442.95,502.59 442.06,502.49 441.17,502.38 440.28,502.28 439.40,502.17 438.51,502.06 437.62,501.94 436.73,501.83 435.84,501.71 434.96,501.60 434.07,501.48 433.18,501.36 432.29,501.23 431.40,501.11 430.52,500.98 429.63,500.85 428.74,500.72 427.85,500.59 426.96,500.46 426.08,500.32 425.19,500.18 424.30,500.04 423.41,499.90 422.52,499.75 421.64,499.60 420.75,499.45 419.86,499.30 418.97,499.14 418.08,498.99 417.20,498.83 416.31,498.66 415.42,498.50 414.53,498.33 413.64,498.15 412.76,497.98 411.87,497.80 410.98,497.62 410.09,497.43 409.20,497.24 408.32,497.05 407.43,496.86 406.54,496.66 405.65,496.45 404.76,496.25 403.88,496.04 402.99,495.82 402.10,495.60 401.21,495.38 400.32,495.15 399.44,494.91 398.55,494.68 397.66,494.43 396.77,494.18 395.88,493.93 395.00,493.67 394.11,493.40 393.22,493.13 392.33,492.86 391.44,492.57 390.56,492.28 389.67,491.99 388.78,491.68 387.89,491.37 387.00,491.05 386.12,490.73 385.23,490.39 384.34,490.05 383.45,489.70 382.56,489.34 381.68,488.97 380.79,488.59 379.90,488.20 379.01,487.80 378.12,487.39 377.24,486.97 376.35,486.53 375.46,486.09 374.57,485.63 373.68,485.15 372.80,484.67 371.91,484.16 371.02,483.65 370.13,483.11 369.24,482.56 368.36,481.99 367.47,481.41 366.58,480.80 365.69,480.17 364.80,479.52 363.92,478.85 363.03,478.16 362.14,477.44 361.25,476.69 360.36,475.91 359.48,475.11 358.59,474.27 357.70,473.40 356.83,472.51 355.99,471.62 355.19,470.74 354.41,469.85 353.66,468.96 352.94,468.07 352.25,467.18 351.58,466.30 350.93,465.41 350.30,464.52 349.69,463.63 349.11,462.74 348.54,461.86 347.99,460.97 347.45,460.08 346.94,459.19 346.43,458.30 345.95,457.42 345.47,456.53 345.01,455.64 344.57,454.75 344.13,453.86 343.71,452.98 343.30,452.09 342.90,451.20 342.51,450.31 342.13,449.42 341.76,448.54 341.40,447.65 341.05,446.76 340.71,445.87 340.37,444.98 340.05,444.10 339.73,443.21 339.42,442.32 339.11,441.43 338.82,440.54 338.53,439.66 338.24,438.77 337.97,437.88 337.70,436.99 337.43,436.10 337.17,435.22 336.92,434.33 336.67,433.44 336.43,432.55 336.19,431.66 335.95,430.78 335.72,429.89 335.50,429.00 335.28,428.11 335.06,427.22 334.85,426.34 334.65,425.45 334.44,424.56 334.24,423.67 334.05,422.78 333.86,421.90 333.67,421.01 333.48,420.12 333.30,419.23 333.12,418.34 332.95,417.46 332.77,416.57 332.60,415.68 332.44,414.79 332.27,413.90 332.11,413.02 331.96,412.13 331.80,411.24 331.65,410.35 331.50,409.46 331.35,408.58 331.20,407.69 331.06,406.80 330.92,405.91 330.78,405.02 330.64,404.14 330.51,403.25 330.38,402.36 330.25,401.47 330.12,400.58 329.99,399.70 329.87,398.81 329.74,397.92 329.62,397.03 329.50,396.14 329.39,395.26 329.27,394.37 329.16,393.48 329.04,392.59 328.93,391.70 328.82,390.82 328.72,389.93 328.61,389.04 328.51,388.15 328.40,387.26 328.30,386.38 328.20,385.49 328.10,384.60" fill="none" stroke="#A9A9A9" stroke-width="1.4" stroke-dasharray="5.45 5.45" stroke-dashoffset="0.0"/><polyline points="446.50,486.09 445.79,485.95 445.08,485.82 444.37,485.69 443.66,485.55 442.95,485.41 442.24,485.28 441.53,485.13 440.82,484.99 440.11,484.85 439.40,484.70 438.69,484.55 437.98,484.40 437.26,484.25 436.55,484.10 435.84,483.95 435.13,483.79 434.42,483.63 433.71,483.47 433.00,483.30 432.29,483.14 431.58,482.97 430.87,482.80 430.16,482.63 429.45,482.46 428.74,482.28 428.03,482.10 427.32,481.92 426.61,481.74 425.90,481.55 425.19,481.36 424.48,481.17 423.77,480.98 423.06,480.78 422.35,480.58 421.64,480.38 420.93,480.17 420.22,479.96 419.50,479.75 418.79,479.54 418.08,479.32 417.37,479.10 416.66,478.87 415.95,478.65 415.24,478.42 414.53,478.18 413.82,477.94 413.11,477.70 412.40,477.46 411.69,477.21 410.98,476.95 410.27,476.69 409.56,476.43 408.85,476.17 408.14,475.90 407.43,475.62 406.72,475.34 406.01,475.06 405.30,474.77 404.59,474.47 403.88,474.17 403.17,473.87 402.46,473.56 401.74,473.24 401.03,472.92 400.32,472.59 399.61,472.26 398.90,471.92 398.19,471.57 397.48,471.22 396.77,470.86 396.06,470.50 395.35,470.12 394.64,469.74 393.93,469.36 393.22,468.96 392.51,468.56 391.80,468.14 391.09,467.72 390.38,467.30 389.67,466.86 388.96,466.41 388.25,465.95 387.54,465.49 386.83,465.01 386.12,464.52 385.41,464.02 384.70,463.51 383.98,462.99 383.27,462.45 382.56,461.91 381.85,461.35 381.14,460.78 380.43,460.19 379.72,459.59 379.01,458.97 378.30,458.34 377.59,457.69 376.88,457.02 376.17,456.34 375.46,455.64 374.76,454.93 374.08,454.22 373.41,453.51 372.76,452.80 372.13,452.09 371.51,451.38 370.91,450.67 370.32,449.96 369.75,449.25 369.19,448.54 368.65,447.83 368.11,447.12 367.59,446.40 367.08,445.69 366.58,444.98 366.09,444.27 365.61,443.56 365.15,442.85 364.69,442.14 364.24,441.43 363.81,440.72 363.38,440.01 362.96,439.30 362.54,438.59 362.14,437.88 361.74,437.17 361.36,436.46 360.98,435.75 360.60,435.04 360.24,434.33 359.88,433.62 359.53,432.91 359.18,432.20 358.84,431.49 358.51,430.78 358.18,430.07 357.86,429.36 357.54,428.64 357.23,427.93 356.93,427.22 356.63,426.51 356.33,425.80 356.04,425.09 355.76,424.38 355.48,423.67 355.20,422.96 354.93,422.25 354.67,421.54 354.41,420.83 354.15,420.12 353.89,419.41 353.64,418.70 353.40,417.99 353.16,417.28 352.92,416.57 352.68,415.86 352.45,415.15 352.23,414.44 352.00,413.73 351.78,413.02 351.56,412.31 351.35,411.60 351.14,410.88 350.93,410.17 350.72,409.46 350.52,408.75 350.32,408.04 350.12,407.33 349.93,406.62 349.74,405.91 349.55,405.20 349.36,404.49 349.18,403.78 349.00,403.07 348.82,402.36 348.64,401.65 348.47,400.94 348.30,400.23 348.13,399.52 347.96,398.81 347.80,398.10 347.63,397.39 347.47,396.68 347.31,395.97 347.16,395.26 347.00,394.55 346.85,393.84 346.70,393.12 346.55,392.41 346.40,391.70 346.25,390.99 346.11,390.28 345.97,389.57 345.82,388.86 345.69,388.15 345.55,387.44 345.41,386.73 345.28,386.02 345.15,385.31 345.01,384.60" fill="none" stroke="#A9A9A9" stroke-width="1.4" stroke-dasharray="5.45 5.45" stroke-dashoffset="0.0"/><polyline points="446.50,466.57 445.97,466.41 445.43,466.26 444.90,466.10 444.37,465.94 443.84,465.78 443.30,465.62 442.77,465.45 442.24,465.29 441.70,465.12 441.17,464.95 440.64,464.78 440.11,464.61 439.57,464.43 439.04,464.26 438.51,464.08 437.98,463.90 437.44,463.72 436.91,463.54 436.38,463.35 435.84,463.17 435.31,462.98 434.78,462.79 434.25,462.59 433.71,462.40 433.18,462.20 432.65,462.01 432.11,461.80 431.58,461.60 431.05,461.40 430.52,461.19 429.98,460.98 429.45,460.77 428.92,460.56 428.38,460.34 427.85,460.12 427.32,459.90 426.79,459.68 426.25,459.45 425.72,459.22 425.19,458.99 424.66,458.76 424.12,458.52 423.59,458.28 423.06,458.04 422.52,457.80 421.99,457.55 421.46,457.30 420.93,457.04 420.39,456.79 419.86,456.53 419.33,456.27 418.79,456.00 418.26,455.73 417.73,455.46 417.20,455.18 416.66,454.90 416.13,454.62 415.60,454.33 415.06,454.04 414.53,453.75 414.00,453.45 413.47,453.15 412.93,452.85 412.40,452.54 411.87,452.22 411.34,451.91 410.80,451.59 410.27,451.26 409.74,450.93 409.20,450.59 408.67,450.26 408.14,449.91 407.61,449.56 407.07,449.21 406.54,448.85 406.01,448.49 405.47,448.12 404.94,447.74 404.41,447.36 403.88,446.98 403.34,446.59 402.81,446.19 402.28,445.79 401.74,445.38 401.21,444.96 400.68,444.54 400.15,444.11 399.61,443.68 399.08,443.24 398.55,442.79 398.02,442.33 397.48,441.87 396.95,441.40 396.42,440.92 395.88,440.43 395.35,439.94 394.82,439.44 394.29,438.93 393.75,438.41 393.22,437.88 392.69,437.35 392.17,436.81 391.66,436.28 391.16,435.75 390.67,435.22 390.18,434.68 389.70,434.15 389.23,433.62 388.77,433.08 388.31,432.55 387.86,432.02 387.42,431.49 386.99,430.95 386.56,430.42 386.14,429.89 385.72,429.36 385.31,428.82 384.91,428.29 384.51,427.76 384.12,427.22 383.74,426.69 383.36,426.16 382.98,425.63 382.61,425.09 382.25,424.56 381.89,424.03 381.54,423.49 381.19,422.96 380.84,422.43 380.51,421.90 380.17,421.36 379.84,420.83 379.51,420.30 379.19,419.76 378.88,419.23 378.56,418.70 378.25,418.17 377.95,417.63 377.65,417.10 377.35,416.57 377.06,416.04 376.77,415.50 376.48,414.97 376.20,414.44 375.92,413.90 375.64,413.37 375.37,412.84 375.10,412.31 374.83,411.77 374.57,411.24 374.31,410.71 374.06,410.17 373.80,409.64 373.55,409.11 373.30,408.58 373.06,408.04 372.82,407.51 372.58,406.98 372.34,406.44 372.11,405.91 371.88,405.38 371.65,404.85 371.42,404.31 371.20,403.78 370.98,403.25 370.76,402.72 370.54,402.18 370.33,401.65 370.12,401.12 369.91,400.58 369.70,400.05 369.50,399.52 369.30,398.99 369.09,398.45 368.90,397.92 368.70,397.39 368.51,396.85 368.31,396.32 368.12,395.79 367.93,395.26 367.75,394.72 367.56,394.19 367.38,393.66 367.20,393.12 367.02,392.59 366.84,392.06 366.67,391.53 366.49,390.99 366.32,390.46 366.15,389.93 365.98,389.40 365.81,388.86 365.65,388.33 365.48,387.80 365.32,387.26 365.16,386.73 365.00,386.20 364.84,385.67 364.69,385.13 364.53,384.60" fill="none" stroke="#A9A9A9" stroke-width="1.4" stroke-dasharray="5.45 5.45" stroke-dashoffset="0.0"/><polyline points="446.50,443.80 446.14,443.64 445.79,443.48 445.43,443.32 445.08,443.16 444.72,443.00 444.37,442.83 444.01,442.67 443.66,442.50 443.30,442.34 442.95,442.17 442.59,442.00 442.24,441.83 441.88,441.65 441.53,441.48 441.17,441.31 440.82,441.13 440.46,440.96 440.11,440.78 439.75,440.60 439.40,440.42 439.04,440.24 438.69,440.05 438.33,439.87 437.98,439.68 437.62,439.49 437.26,439.31 436.91,439.12 436.55,438.92 436.20,438.73 435.84,438.54 435.49,438.34 435.13,438.15 434.78,437.95 434.42,437.75 434.07,437.54 433.71,437.34 433.36,437.14 433.00,436.93 432.65,436.72 432.29,436.51 431.94,436.30 431.58,436.09 431.23,435.88 430.87,435.66 430.52,435.44 430.16,435.22 429.81,435.00 429.45,434.78 429.10,434.55 428.74,434.33 428.38,434.10 428.03,433.87 427.67,433.64 427.32,433.40 426.96,433.17 426.61,432.93 426.25,432.69 425.90,432.45 425.54,432.21 425.19,431.96 424.83,431.71 424.48,431.46 424.12,431.21 423.77,430.96 423.41,430.70 423.06,430.44 422.70,430.18 422.35,429.92 421.99,429.65 421.64,429.39 421.28,429.12 420.93,428.84 420.57,428.57 420.22,428.29 419.86,428.01 419.50,427.73 419.15,427.45 418.79,427.16 418.44,426.87 418.08,426.58 417.73,426.28 417.37,425.99 417.02,425.69 416.66,425.38 416.31,425.08 415.95,424.77 415.60,424.46 415.24,424.14 414.89,423.82 414.53,423.50 414.18,423.18 413.82,422.85 413.47,422.52 413.11,422.19 412.76,421.85 412.40,421.51 412.05,421.17 411.69,420.82 411.34,420.47 410.98,420.12 410.63,419.76 410.28,419.41 409.93,419.05 409.59,418.70 409.25,418.34 408.91,417.99 408.58,417.63 408.25,417.28 407.92,416.92 407.60,416.57 407.28,416.21 406.96,415.86 406.64,415.50 406.33,415.15 406.02,414.79 405.72,414.44 405.41,414.08 405.11,413.73 404.82,413.37 404.52,413.02 404.23,412.66 403.94,412.31 403.65,411.95 403.37,411.60 403.09,411.24 402.81,410.88 402.53,410.53 402.26,410.17 401.98,409.82 401.71,409.46 401.45,409.11 401.18,408.75 400.92,408.40 400.66,408.04 400.40,407.69 400.14,407.33 399.89,406.98 399.64,406.62 399.39,406.27 399.14,405.91 398.89,405.56 398.65,405.20 398.41,404.85 398.17,404.49 397.93,404.14 397.70,403.78 397.46,403.43 397.23,403.07 397.00,402.72 396.77,402.36 396.55,402.00 396.32,401.65 396.10,401.29 395.88,400.94 395.66,400.58 395.44,400.23 395.22,399.87 395.01,399.52 394.80,399.16 394.59,398.81 394.38,398.45 394.17,398.10 393.96,397.74 393.76,397.39 393.56,397.03 393.35,396.68 393.15,396.32 392.95,395.97 392.76,395.61 392.56,395.26 392.37,394.90 392.18,394.55 391.98,394.19 391.79,393.84 391.61,393.48 391.42,393.12 391.23,392.77 391.05,392.41 390.86,392.06 390.68,391.70 390.50,391.35 390.32,390.99 390.14,390.64 389.97,390.28 389.79,389.93 389.62,389.57 389.45,389.22 389.27,388.86 389.10,388.51 388.93,388.15 388.76,387.80 388.60,387.44 388.43,387.09 388.27,386.73 388.10,386.38 387.94,386.02 387.78,385.67 387.62,385.31 387.46,384.96 387.30,384.60" fill="none" stroke="#A9A9A9" stroke-width="1.4" stroke-dasharray="5.45 5.45" stroke-dashoffset="0.0"/><polyline points="446.50,416.89 446.32,416.77 446.14,416.65 445.97,416.53 445.79,416.41 445.61,416.29 445.43,416.17 445.26,416.05 445.08,415.93 444.90,415.80 444.72,415.68 444.55,415.56 444.37,415.43 444.19,415.31 444.01,415.18 443.84,415.06 443.66,414.93 443.48,414.81 443.30,414.68 443.13,414.55 442.95,414.42 442.77,414.30 442.59,414.17 442.42,414.04 442.24,413.91 442.06,413.78 441.88,413.65 441.70,413.52 441.53,413.38 441.35,413.25 441.17,413.12 440.99,412.99 440.82,412.85 440.64,412.72 440.46,412.58 440.28,412.45 440.11,412.31 439.93,412.17 439.75,412.04 439.57,411.90 439.40,411.76 439.22,411.62 439.04,411.48 438.86,411.35 438.69,411.20 438.51,411.06 438.33,410.92 438.15,410.78 437.98,410.64 437.80,410.50 437.62,410.35 437.44,410.21 437.26,410.06 437.09,409.92 436.91,409.77 436.73,409.63 436.55,409.48 436.38,409.33 436.20,409.18 436.02,409.03 435.84,408.88 435.67,408.73 435.49,408.58 435.31,408.43 435.13,408.28 434.96,408.13 434.78,407.97 434.60,407.82 434.42,407.67 434.25,407.51 434.07,407.36 433.89,407.20 433.71,407.04 433.54,406.88 433.36,406.73 433.18,406.57 433.00,406.41 432.82,406.25 432.65,406.09 432.47,405.92 432.29,405.76 432.11,405.60 431.94,405.43 431.76,405.27 431.58,405.10 431.40,404.94 431.23,404.77 431.05,404.60 430.87,404.44 430.69,404.27 430.52,404.10 430.34,403.93 430.16,403.76 429.98,403.58 429.81,403.41 429.63,403.24 429.45,403.06 429.27,402.89 429.10,402.71 428.92,402.54 428.74,402.36 428.56,402.18 428.39,402.00 428.21,401.83 428.04,401.65 427.86,401.47 427.69,401.29 427.52,401.12 427.34,400.94 427.17,400.76 427.00,400.58 426.83,400.41 426.66,400.23 426.50,400.05 426.33,399.87 426.16,399.70 426.00,399.52 425.83,399.34 425.67,399.16 425.50,398.99 425.34,398.81 425.18,398.63 425.01,398.45 424.85,398.28 424.69,398.10 424.53,397.92 424.37,397.74 424.22,397.56 424.06,397.39 423.90,397.21 423.75,397.03 423.59,396.85 423.43,396.68 423.28,396.50 423.13,396.32 422.97,396.14 422.82,395.97 422.67,395.79 422.52,395.61 422.37,395.43 422.22,395.26 422.07,395.08 421.92,394.90 421.77,394.72 421.62,394.55 421.47,394.37 421.33,394.19 421.18,394.01 421.04,393.84 420.89,393.66 420.75,393.48 420.60,393.30 420.46,393.12 420.32,392.95 420.18,392.77 420.04,392.59 419.90,392.41 419.75,392.24 419.62,392.06 419.48,391.88 419.34,391.70 419.20,391.53 419.06,391.35 418.93,391.17 418.79,390.99 418.65,390.82 418.52,390.64 418.38,390.46 418.25,390.28 418.11,390.11 417.98,389.93 417.85,389.75 417.72,389.57 417.58,389.40 417.45,389.22 417.32,389.04 417.19,388.86 417.06,388.68 416.93,388.51 416.80,388.33 416.68,388.15 416.55,387.97 416.42,387.80 416.29,387.62 416.17,387.44 416.04,387.26 415.92,387.09 415.79,386.91 415.67,386.73 415.54,386.55 415.42,386.38 415.30,386.20 415.17,386.02 415.05,385.84 414.93,385.67 414.81,385.49 414.69,385.31 414.57,385.13 414.45,384.96 414.33,384.78 414.21,384.60" fill="none" stroke="#A9A9A9" stroke-width="1.4" stroke-dasharray="5.45 5.45" stroke-dashoffset="0.0"/></g>
<rect x="260.30" y="376.00" width="194.90" height="194.90" fill="none" stroke="none" stroke-width="1.2"/>
<line x1="268.90" y1="570.90" x2="268.90" y2="573.10" stroke="#333333" stroke-width="1"/>
<line x1="258.10" y1="562.20" x2="260.30" y2="562.20" stroke="#333333" stroke-width="1"/>
<text x="268.90" y="578.80" font-size="6.35" text-anchor="middle" fill="#4D4D4D" font-weight="normal" font-style="normal" >0.00</text>
<text x="256.70" y="564.89" font-size="6.35" text-anchor="end" fill="#4D4D4D" font-weight="normal" font-style="normal" >0.00</text>
<line x1="313.30" y1="570.90" x2="313.30" y2="573.10" stroke="#333333" stroke-width="1"/>
<line x1="258.10" y1="517.80" x2="260.30" y2="517.80" stroke="#333333" stroke-width="1"/>
<text x="313.30" y="578.80" font-size="6.35" text-anchor="middle" fill="#4D4D4D" font-weight="normal" font-style="normal" >0.25</text>
<text x="256.70" y="520.49" font-size="6.35" text-anchor="end" fill="#4D4D4D" font-weight="normal" font-style="normal" >0.25</text>
<line x1="357.70" y1="570.90" x2="357.70" y2="573.10" stroke="#333333" stroke-width="1"/>
<line x1="258.10" y1="473.40" x2="260.30" y2="473.40" stroke="#333333" stroke-width="1"/>
<text x="357.70" y="578.80" font-size="6.35" text-anchor="middle" fill="#4D4D4D" font-weight="normal" font-style="normal" >0.50</text>
<text x="256.70" y="476.09" font-size="6.35" text-anchor="end" fill="#4D4D4D" font-weight="normal" font-style="normal" >0.50</text>
<line x1="402.10" y1="570.90" x2="402.10" y2="573.10" stroke="#333333" stroke-width="1"/>
<line x1="258.10" y1="429.00" x2="260.30" y2="429.00" stroke="#333333" stroke-width="1"/>
<text x="402.10" y="578.80" font-size="6.35" text-anchor="middle" fill="#4D4D4D" font-weight="normal" font-style="normal" >0.75</text>
<text x="256.70" y="431.69" font-size="6.35" text-anchor="end" fill="#4D4D4D" font-weight="normal" font-style="normal" >0.75</text>
<line x1="446.50" y1="570.90" x2="446.50" y2="573.10" stroke="#333333" stroke-width="1"/>
<line x1="258.10" y1="384.60" x2="260.30" y2="384.60" stroke="#333333" stroke-width="1"/>
<text x="446.50" y="578.80" font-size="6.35" text-anchor="middle" fill="#4D4D4D" font-weight="normal" font-style="normal" >1.00</text>
<text x="256.70" y="387.29" font-size="6.35" text-anchor="end" fill="#4D4D4D" font-weight="normal" font-style="normal" >1.00</text>
<text x="357.75" y="588.80" font-size="7.85" text-anchor="middle" fill="#000" font-weight="normal" font-style="normal" >Recall</text>
<text x="240.30" y="473.45" font-size="7.85" text-anchor="middle" fill="#000" font-weight="normal" font-style="normal" transform="rotate(-90 240.30 473.45)">Precision</text>
<rect x="260.0" y="376.0" width="195.25" height="194.8" fill="none" stroke="#606060" stroke-width="1.35"/>
<text x="259.05" y="366.70" font-size="9.45" text-anchor="start" fill="#000" font-weight="normal" font-style="normal" >Performance at different cutoff and ratio for <tspan font-style="italic">Alu</tspan></text>
<clipPath id="cp2"><rect x="489.50" y="376.00" width="194.90" height="194.90"/></clipPath>
<g clip-path="url(#cp2)"><polyline points="675.70,552.85 674.10,552.85 672.50,552.84 670.90,552.84 669.31,552.83 667.71,552.83 666.11,552.82 664.51,552.82 662.91,552.81 661.31,552.81 659.72,552.80 658.12,552.80 656.52,552.79 654.92,552.79 653.32,552.78 651.72,552.78 650.13,552.77 648.53,552.76 646.93,552.76 645.33,552.75 643.73,552.74 642.13,552.74 640.54,552.73 638.94,552.72 637.34,552.72 635.74,552.71 634.14,552.70 632.54,552.69 630.94,552.68 629.35,552.68 627.75,552.67 626.15,552.66 624.55,552.65 622.95,552.64 621.35,552.63 619.76,552.62 618.16,552.61 616.56,552.60 614.96,552.59 613.36,552.58 611.76,552.57 610.17,552.56 608.57,552.54 606.97,552.53 605.37,552.52 603.77,552.51 602.17,552.49 600.58,552.48 598.98,552.46 597.38,552.45 595.78,552.43 594.18,552.42 592.58,552.40 590.98,552.38 589.39,552.36 587.79,552.34 586.19,552.32 584.59,552.30 582.99,552.28 581.39,552.26 579.80,552.24 578.20,552.21 576.60,552.19 575.00,552.16 573.40,552.13 571.80,552.10 570.21,552.07 568.61,552.04 567.01,552.01 565.41,551.97 563.81,551.93 562.21,551.89 560.62,551.85 559.02,551.80 557.42,551.76 555.82,551.71 554.22,551.65 552.62,551.59 551.02,551.53 549.43,551.46 547.83,551.39 546.23,551.31 544.63,551.23 543.03,551.13 541.43,551.03 539.84,550.92 538.24,550.80 536.64,550.66 535.04,550.51 533.44,550.34 531.84,550.15 530.25,549.93 528.65,549.68 527.05,549.39 525.45,549.05 523.85,548.65 522.25,548.16 520.66,547.55 519.06,546.79 517.46,545.79 515.86,544.44 514.51,542.84 513.51,541.24 512.75,539.64 512.14,538.05 511.65,536.45 511.25,534.85 510.91,533.25 510.62,531.65 510.37,530.05 510.15,528.46 509.96,526.86 509.79,525.26 509.64,523.66 509.50,522.06 509.38,520.46 509.27,518.87 509.17,517.27 509.07,515.67 508.99,514.07 508.91,512.47 508.84,510.87 508.77,509.28 508.71,507.68 508.65,506.08 508.59,504.48 508.54,502.88 508.50,501.28 508.45,499.68 508.41,498.09 508.37,496.49 508.33,494.89 508.29,493.29 508.26,491.69 508.23,490.09 508.20,488.50 508.17,486.90 508.14,485.30 508.11,483.70 508.09,482.10 508.06,480.50 508.04,478.91 508.02,477.31 508.00,475.71 507.98,474.11 507.96,472.51 507.94,470.91 507.92,469.32 507.90,467.72 507.88,466.12 507.87,464.52 507.85,462.92 507.84,461.32 507.82,459.72 507.81,458.13 507.79,456.53 507.78,454.93 507.77,453.33 507.76,451.73 507.74,450.13 507.73,448.54 507.72,446.94 507.71,445.34 507.70,443.74 507.69,442.14 507.68,440.54 507.67,438.95 507.66,437.35 507.65,435.75 507.64,434.15 507.63,432.55 507.62,430.95 507.62,429.36 507.61,427.76 507.60,426.16 507.59,424.56 507.58,422.96 507.58,421.36 507.57,419.76 507.56,418.17 507.56,416.57 507.55,414.97 507.54,413.37 507.54,411.77 507.53,410.17 507.52,408.58 507.52,406.98 507.51,405.38 507.51,403.78 507.50,402.18 507.50,400.58 507.49,398.99 507.49,397.39 507.48,395.79 507.48,394.19 507.47,392.59 507.47,390.99 507.46,389.40 507.46,387.80 507.45,386.20 507.45,384.60" fill="none" stroke="#A9A9A9" stroke-width="1.4" stroke-dasharray="5.45 5.45" stroke-dashoffset="0.0"/><polyline points="675.70,542.47 674.28,542.45 672.86,542.43 671.44,542.41 670.02,542.39 668.60,542.37 667.18,542.36 665.75,542.34 664.33,542.32 662.91,542.30 661.49,542.27 660.07,542.25 658.65,542.23 657.23,542.21 655.81,542.19 654.39,542.16 652.97,542.14 651.55,542.12 650.13,542.09 648.70,542.07 647.28,542.04 645.86,542.01 644.44,541.99 643.02,541.96 641.60,541.93 640.18,541.90 638.76,541.87 637.34,541.84 635.92,541.81 634.50,541.78 633.08,541.75 631.66,541.72 630.23,541.68 628.81,541.65 627.39,541.61 625.97,541.58 624.55,541.54 623.13,541.50 621.71,541.46 620.29,541.42 618.87,541.38 617.45,541.34 616.03,541.29 614.61,541.25 613.18,541.20 611.76,541.15 610.34,541.10 608.92,541.05 607.50,541.00 606.08,540.94 604.66,540.89 603.24,540.83 601.82,540.77 600.40,540.71 598.98,540.65 597.56,540.58 596.14,540.51 594.71,540.44 593.29,540.37 591.87,540.29 590.45,540.21 589.03,540.13 587.61,540.04 586.19,539.96 584.77,539.86 583.35,539.77 581.93,539.67 580.51,539.56 579.09,539.45 577.66,539.34 576.24,539.22 574.82,539.09 573.40,538.96 571.98,538.82 570.56,538.67 569.14,538.52 567.72,538.36 566.30,538.19 564.88,538.01 563.46,537.81 562.04,537.61 560.62,537.39 559.19,537.16 557.77,536.91 556.35,536.65 554.93,536.37 553.51,536.06 552.09,535.73 550.67,535.38 549.25,534.99 547.83,534.57 546.41,534.11 544.99,533.61 543.57,533.06 542.14,532.44 540.72,531.75 539.30,530.99 537.88,530.12 536.46,529.13 535.04,528.00 533.62,526.68 532.30,525.26 531.17,523.84 530.18,522.42 529.31,521.00 528.55,519.58 527.86,518.16 527.24,516.73 526.69,515.31 526.19,513.89 525.73,512.47 525.31,511.05 524.92,509.63 524.57,508.21 524.24,506.79 523.93,505.37 523.65,503.95 523.39,502.53 523.14,501.11 522.91,499.68 522.69,498.26 522.49,496.84 522.29,495.42 522.11,494.00 521.94,492.58 521.78,491.16 521.63,489.74 521.48,488.32 521.34,486.90 521.21,485.48 521.08,484.06 520.96,482.64 520.85,481.21 520.74,479.79 520.63,478.37 520.53,476.95 520.44,475.53 520.34,474.11 520.26,472.69 520.17,471.27 520.09,469.85 520.01,468.43 519.93,467.01 519.86,465.59 519.79,464.16 519.72,462.74 519.65,461.32 519.59,459.90 519.53,458.48 519.47,457.06 519.41,455.64 519.36,454.22 519.30,452.80 519.25,451.38 519.20,449.96 519.15,448.54 519.10,447.12 519.05,445.69 519.01,444.27 518.96,442.85 518.92,441.43 518.88,440.01 518.84,438.59 518.80,437.17 518.76,435.75 518.72,434.33 518.69,432.91 518.65,431.49 518.62,430.07 518.58,428.64 518.55,427.22 518.52,425.80 518.49,424.38 518.46,422.96 518.43,421.54 518.40,420.12 518.37,418.70 518.34,417.28 518.31,415.86 518.29,414.44 518.26,413.02 518.23,411.60 518.21,410.17 518.18,408.75 518.16,407.33 518.14,405.91 518.11,404.49 518.09,403.07 518.07,401.65 518.05,400.23 518.03,398.81 518.00,397.39 517.98,395.97 517.96,394.55 517.94,393.12 517.93,391.70 517.91,390.28 517.89,388.86 517.87,387.44 517.85,386.02 517.83,384.60" fill="none" stroke="#A9A9A9" stroke-width="1.4" stroke-dasharray="5.45 5.45" stroke-dashoffset="0.0"/><polyline points="675.70,530.86 674.46,530.82 673.21,530.78 671.97,530.74 670.73,530.70 669.48,530.66 668.24,530.61 667.00,530.57 665.75,530.53 664.51,530.48 663.27,530.44 662.02,530.39 660.78,530.34 659.54,530.30 658.30,530.25 657.05,530.20 655.81,530.15 654.57,530.09 653.32,530.04 652.08,529.99 650.84,529.93 649.59,529.88 648.35,529.82 647.11,529.76 645.86,529.70 644.62,529.64 643.38,529.58 642.13,529.51 640.89,529.45 639.65,529.38 638.40,529.32 637.16,529.25 635.92,529.18 634.67,529.10 633.43,529.03 632.19,528.96 630.94,528.88 629.70,528.80 628.46,528.72 627.22,528.63 625.97,528.55 624.73,528.46 623.49,528.37 622.24,528.28 621.00,528.19 619.76,528.09 618.51,527.99 617.27,527.89 616.03,527.79 614.78,527.68 613.54,527.57 612.30,527.45 611.05,527.34 609.81,527.22 608.57,527.09 607.32,526.97 606.08,526.84 604.84,526.70 603.59,526.56 602.35,526.42 601.11,526.27 599.86,526.11 598.62,525.95 597.38,525.79 596.14,525.62 594.89,525.44 593.65,525.26 592.41,525.07 591.16,524.88 589.92,524.67 588.68,524.46 587.43,524.24 586.19,524.01 584.95,523.77 583.70,523.52 582.46,523.26 581.22,522.99 579.97,522.71 578.73,522.42 577.49,522.11 576.24,521.78 575.00,521.44 573.76,521.08 572.51,520.70 571.27,520.31 570.03,519.89 568.78,519.45 567.54,518.98 566.30,518.48 565.06,517.96 563.81,517.40 562.57,516.80 561.33,516.16 560.08,515.48 558.84,514.75 557.60,513.96 556.35,513.11 555.11,512.19 553.87,511.19 552.62,510.11 551.38,508.92 550.19,507.68 549.11,506.43 548.11,505.19 547.19,503.95 546.34,502.70 545.55,501.46 544.82,500.22 544.14,498.97 543.50,497.73 542.90,496.49 542.34,495.24 541.82,494.00 541.32,492.76 540.85,491.52 540.41,490.27 539.99,489.03 539.60,487.79 539.22,486.54 538.86,485.30 538.52,484.06 538.19,482.81 537.88,481.57 537.59,480.33 537.31,479.08 537.04,477.84 536.78,476.60 536.53,475.35 536.29,474.11 536.06,472.87 535.84,471.62 535.63,470.38 535.42,469.14 535.23,467.89 535.04,466.65 534.86,465.41 534.68,464.16 534.51,462.92 534.35,461.68 534.19,460.44 534.03,459.19 533.88,457.95 533.74,456.71 533.60,455.46 533.46,454.22 533.33,452.98 533.21,451.73 533.08,450.49 532.96,449.25 532.85,448.00 532.73,446.76 532.62,445.52 532.51,444.27 532.41,443.03 532.31,441.79 532.21,440.54 532.11,439.30 532.02,438.06 531.93,436.81 531.84,435.57 531.75,434.33 531.67,433.08 531.58,431.84 531.50,430.60 531.42,429.36 531.34,428.11 531.27,426.87 531.20,425.63 531.12,424.38 531.05,423.14 530.98,421.90 530.92,420.65 530.85,419.41 530.79,418.17 530.72,416.92 530.66,415.68 530.60,414.44 530.54,413.19 530.48,411.95 530.42,410.71 530.37,409.46 530.31,408.22 530.26,406.98 530.21,405.73 530.15,404.49 530.10,403.25 530.05,402.00 530.00,400.76 529.96,399.52 529.91,398.28 529.86,397.03 529.82,395.79 529.77,394.55 529.73,393.30 529.69,392.06 529.64,390.82 529.60,389.57 529.56,388.33 529.52,387.09 529.48,385.84 529.44,384.60" fill="none" stroke="#A9A9A9" stroke-width="1.4" stroke-dasharray="5.45 5.45" stroke-dashoffset="0.0"/><polyline points="675.70,517.80 674.63,517.73 673.57,517.66 672.50,517.60 671.44,517.53 670.37,517.45 669.31,517.38 668.24,517.31 667.18,517.23 666.11,517.16 665.04,517.08 663.98,517.00 662.91,516.92 661.85,516.84 660.78,516.76 659.72,516.67 658.65,516.59 657.58,516.50 656.52,516.41 655.45,516.32 654.39,516.23 653.32,516.14 652.26,516.05 651.19,515.95 650.13,515.85 649.06,515.75 647.99,515.65 646.93,515.55 645.86,515.44 644.80,515.33 643.73,515.22 642.67,515.11 641.60,515.00 640.54,514.88 639.47,514.76 638.40,514.64 637.34,514.52 636.27,514.39 635.21,514.26 634.14,514.13 633.08,513.99 632.01,513.86 630.94,513.72 629.88,513.57 628.81,513.43 627.75,513.28 626.68,513.12 625.62,512.97 624.55,512.81 623.49,512.64 622.42,512.47 621.35,512.30 620.29,512.12 619.22,511.94 618.16,511.76 617.09,511.57 616.03,511.37 614.96,511.17 613.90,510.96 612.83,510.75 611.76,510.53 610.70,510.31 609.63,510.08 608.57,509.85 607.50,509.60 606.44,509.35 605.37,509.10 604.30,508.83 603.24,508.56 602.17,508.28 601.11,507.99 600.04,507.69 598.98,507.38 597.91,507.06 596.85,506.72 595.78,506.38 594.71,506.03 593.65,505.66 592.58,505.28 591.52,504.89 590.45,504.48 589.39,504.06 588.32,503.62 587.26,503.16 586.19,502.68 585.12,502.18 584.06,501.67 582.99,501.13 581.93,500.56 580.86,499.97 579.80,499.36 578.73,498.71 577.66,498.03 576.60,497.32 575.53,496.58 574.47,495.79 573.40,494.97 572.34,494.09 571.27,493.17 570.21,492.19 569.14,491.16 568.11,490.09 567.13,489.03 566.21,487.96 565.33,486.90 564.51,485.83 563.72,484.77 562.98,483.70 562.27,482.64 561.59,481.57 560.94,480.50 560.33,479.44 559.74,478.37 559.17,477.31 558.63,476.24 558.12,475.18 557.62,474.11 557.14,473.04 556.68,471.98 556.24,470.91 555.82,469.85 555.41,468.78 555.02,467.72 554.64,466.65 554.27,465.59 553.92,464.52 553.58,463.45 553.24,462.39 552.92,461.32 552.61,460.26 552.31,459.19 552.02,458.13 551.74,457.06 551.47,456.00 551.20,454.93 550.95,453.86 550.70,452.80 550.45,451.73 550.22,450.67 549.99,449.60 549.77,448.54 549.55,447.47 549.34,446.40 549.13,445.34 548.93,444.27 548.73,443.21 548.54,442.14 548.36,441.08 548.18,440.01 548.00,438.95 547.83,437.88 547.66,436.81 547.50,435.75 547.33,434.68 547.18,433.62 547.02,432.55 546.87,431.49 546.73,430.42 546.58,429.36 546.44,428.29 546.31,427.22 546.17,426.16 546.04,425.09 545.91,424.03 545.78,422.96 545.66,421.90 545.54,420.83 545.42,419.76 545.30,418.70 545.19,417.63 545.08,416.57 544.97,415.50 544.86,414.44 544.75,413.37 544.65,412.31 544.55,411.24 544.45,410.17 544.35,409.11 544.25,408.04 544.16,406.98 544.07,405.91 543.98,404.85 543.89,403.78 543.80,402.72 543.71,401.65 543.63,400.58 543.54,399.52 543.46,398.45 543.38,397.39 543.30,396.32 543.22,395.26 543.14,394.19 543.07,393.12 542.99,392.06 542.92,390.99 542.85,389.93 542.77,388.86 542.70,387.80 542.64,386.73 542.57,385.67 542.50,384.60" fill="none" stroke="#A9A9A9" stroke-width="1.4" stroke-dasharray="5.45 5.45" stroke-dashoffset="0.0"/><polyline points="675.70,503.00 674.81,502.90 673.92,502.80 673.04,502.70 672.15,502.59 671.26,502.49 670.37,502.38 669.48,502.28 668.60,502.17 667.71,502.06 666.82,501.94 665.93,501.83 665.04,501.71 664.16,501.60 663.27,501.48 662.38,501.36 661.49,501.23 660.60,501.11 659.72,500.98 658.83,500.85 657.94,500.72 657.05,500.59 656.16,500.46 655.28,500.32 654.39,500.18 653.50,500.04 652.61,499.90 651.72,499.75 650.84,499.60 649.95,499.45 649.06,499.30 648.17,499.14 647.28,498.99 646.40,498.83 645.51,498.66 644.62,498.50 643.73,498.33 642.84,498.15 641.96,497.98 641.07,497.80 640.18,497.62 639.29,497.43 638.40,497.24 637.52,497.05 636.63,496.86 635.74,496.66 634.85,496.45 633.96,496.25 633.08,496.04 632.19,495.82 631.30,495.60 630.41,495.38 629.52,495.15 628.64,494.91 627.75,494.68 626.86,494.43 625.97,494.18 625.08,493.93 624.20,493.67 623.31,493.40 622.42,493.13 621.53,492.86 620.64,492.57 619.76,492.28 618.87,491.99 617.98,491.68 617.09,491.37 616.20,491.05 615.32,490.73 614.43,490.39 613.54,490.05 612.65,489.70 611.76,489.34 610.88,488.97 609.99,488.59 609.10,488.20 608.21,487.80 607.32,487.39 606.44,486.97 605.55,486.53 604.66,486.09 603.77,485.63 602.88,485.15 602.00,484.67 601.11,484.16 600.22,483.65 599.33,483.11 598.44,482.56 597.56,481.99 596.67,481.41 595.78,480.80 594.89,480.17 594.00,479.52 593.12,478.85 592.23,478.16 591.34,477.44 590.45,476.69 589.56,475.91 588.68,475.11 587.79,474.27 586.90,473.40 586.03,472.51 585.19,471.62 584.39,470.74 583.61,469.85 582.86,468.96 582.14,468.07 581.45,467.18 580.78,466.30 580.13,465.41 579.50,464.52 578.89,463.63 578.31,462.74 577.74,461.86 577.19,460.97 576.65,460.08 576.14,459.19 575.63,458.30 575.15,457.42 574.67,456.53 574.21,455.64 573.77,454.75 573.33,453.86 572.91,452.98 572.50,452.09 572.10,451.20 571.71,450.31 571.33,449.42 570.96,448.54 570.60,447.65 570.25,446.76 569.91,445.87 569.57,444.98 569.25,444.10 568.93,443.21 568.62,442.32 568.31,441.43 568.02,440.54 567.73,439.66 567.44,438.77 567.17,437.88 566.90,436.99 566.63,436.10 566.37,435.22 566.12,434.33 565.87,433.44 565.62,432.55 565.39,431.66 565.15,430.78 564.92,429.89 564.70,429.00 564.48,428.11 564.26,427.22 564.05,426.34 563.85,425.45 563.64,424.56 563.44,423.67 563.25,422.78 563.06,421.90 562.87,421.01 562.68,420.12 562.50,419.23 562.32,418.34 562.15,417.46 561.97,416.57 561.80,415.68 561.64,414.79 561.47,413.90 561.31,413.02 561.16,412.13 561.00,411.24 560.85,410.35 560.70,409.46 560.55,408.58 560.40,407.69 560.26,406.80 560.12,405.91 559.98,405.02 559.84,404.14 559.71,403.25 559.58,402.36 559.45,401.47 559.32,400.58 559.19,399.70 559.07,398.81 558.94,397.92 558.82,397.03 558.70,396.14 558.59,395.26 558.47,394.37 558.36,393.48 558.24,392.59 558.13,391.70 558.02,390.82 557.92,389.93 557.81,389.04 557.71,388.15 557.60,387.26 557.50,386.38 557.40,385.49 557.30,384.60" fill="none" stroke="#A9A9A9" stroke-width="1.4" stroke-dasharray="5.45 5.45" stroke-dashoffset="0.0"/><polyline points="675.70,486.09 674.99,485.95 674.28,485.82 673.57,485.69 672.86,485.55 672.15,485.41 671.44,485.28 670.73,485.13 670.02,484.99 669.31,484.85 668.60,484.70 667.89,484.55 667.18,484.40 666.46,484.25 665.75,484.10 665.04,483.95 664.33,483.79 663.62,483.63 662.91,483.47 662.20,483.30 661.49,483.14 660.78,482.97 660.07,482.80 659.36,482.63 658.65,482.46 657.94,482.28 657.23,482.10 656.52,481.92 655.81,481.74 655.10,481.55 654.39,481.36 653.68,481.17 652.97,480.98 652.26,480.78 651.55,480.58 650.84,480.38 650.13,480.17 649.42,479.96 648.70,479.75 647.99,479.54 647.28,479.32 646.57,479.10 645.86,478.87 645.15,478.65 644.44,478.42 643.73,478.18 643.02,477.94 642.31,477.70 641.60,477.46 640.89,477.21 640.18,476.95 639.47,476.69 638.76,476.43 638.05,476.17 637.34,475.90 636.63,475.62 635.92,475.34 635.21,475.06 634.50,474.77 633.79,474.47 633.08,474.17 632.37,473.87 631.66,473.56 630.94,473.24 630.23,472.92 629.52,472.59 628.81,472.26 628.10,471.92 627.39,471.57 626.68,471.22 625.97,470.86 625.26,470.50 624.55,470.12 623.84,469.74 623.13,469.36 622.42,468.96 621.71,468.56 621.00,468.14 620.29,467.72 619.58,467.30 618.87,466.86 618.16,466.41 617.45,465.95 616.74,465.49 616.03,465.01 615.32,464.52 614.61,464.02 613.90,463.51 613.18,462.99 612.47,462.45 611.76,461.91 611.05,461.35 610.34,460.78 609.63,460.19 608.92,459.59 608.21,458.97 607.50,458.34 606.79,457.69 606.08,457.02 605.37,456.34 604.66,455.64 603.96,454.93 603.28,454.22 602.61,453.51 601.96,452.80 601.33,452.09 600.71,451.38 600.11,450.67 599.52,449.96 598.95,449.25 598.39,448.54 597.85,447.83 597.31,447.12 596.79,446.40 596.28,445.69 595.78,444.98 595.29,444.27 594.81,443.56 594.35,442.85 593.89,442.14 593.44,441.43 593.00,440.72 592.58,440.01 592.16,439.30 591.74,438.59 591.34,437.88 590.94,437.17 590.56,436.46 590.18,435.75 589.80,435.04 589.44,434.33 589.08,433.62 588.73,432.91 588.38,432.20 588.04,431.49 587.71,430.78 587.38,430.07 587.06,429.36 586.74,428.64 586.43,427.93 586.13,427.22 585.83,426.51 585.53,425.80 585.24,425.09 584.96,424.38 584.68,423.67 584.40,422.96 584.13,422.25 583.87,421.54 583.61,420.83 583.35,420.12 583.09,419.41 582.84,418.70 582.60,417.99 582.36,417.28 582.12,416.57 581.88,415.86 581.65,415.15 581.43,414.44 581.20,413.73 580.98,413.02 580.76,412.31 580.55,411.60 580.34,410.88 580.13,410.17 579.92,409.46 579.72,408.75 579.52,408.04 579.32,407.33 579.13,406.62 578.94,405.91 578.75,405.20 578.56,404.49 578.38,403.78 578.20,403.07 578.02,402.36 577.84,401.65 577.67,400.94 577.50,400.23 577.33,399.52 577.16,398.81 577.00,398.10 576.83,397.39 576.67,396.68 576.51,395.97 576.36,395.26 576.20,394.55 576.05,393.84 575.90,393.12 575.75,392.41 575.60,391.70 575.45,390.99 575.31,390.28 575.17,389.57 575.02,388.86 574.89,388.15 574.75,387.44 574.61,386.73 574.48,386.02 574.35,385.31 574.21,384.60" fill="none" stroke="#A9A9A9" stroke-width="1.4" stroke-dasharray="5.45 5.45" stroke-dashoffset="0.0"/><polyline points="675.70,466.57 675.17,466.41 674.63,466.26 674.10,466.10 673.57,465.94 673.04,465.78 672.50,465.62 671.97,465.45 671.44,465.29 670.90,465.12 670.37,464.95 669.84,464.78 669.31,464.61 668.77,464.43 668.24,464.26 667.71,464.08 667.18,463.90 666.64,463.72 666.11,463.54 665.58,463.35 665.04,463.17 664.51,462.98 663.98,462.79 663.45,462.59 662.91,462.40 662.38,462.20 661.85,462.01 661.31,461.80 660.78,461.60 660.25,461.40 659.72,461.19 659.18,460.98 658.65,460.77 658.12,460.56 657.58,460.34 657.05,460.12 656.52,459.90 655.99,459.68 655.45,459.45 654.92,459.22 654.39,458.99 653.86,458.76 653.32,458.52 652.79,458.28 652.26,458.04 651.72,457.80 651.19,457.55 650.66,457.30 650.13,457.04 649.59,456.79 649.06,456.53 648.53,456.27 647.99,456.00 647.46,455.73 646.93,455.46 646.40,455.18 645.86,454.90 645.33,454.62 644.80,454.33 644.26,454.04 643.73,453.75 643.20,453.45 642.67,453.15 642.13,452.85 641.60,452.54 641.07,452.22 640.54,451.91 640.00,451.59 639.47,451.26 638.94,450.93 638.40,450.59 637.87,450.26 637.34,449.91 636.81,449.56 636.27,449.21 635.74,448.85 635.21,448.49 634.67,448.12 634.14,447.74 633.61,447.36 633.08,446.98 632.54,446.59 632.01,446.19 631.48,445.79 630.94,445.38 630.41,444.96 629.88,444.54 629.35,444.11 628.81,443.68 628.28,443.24 627.75,442.79 627.22,442.33 626.68,441.87 626.15,441.40 625.62,440.92 625.08,440.43 624.55,439.94 624.02,439.44 623.49,438.93 622.95,438.41 622.42,437.88 621.89,437.35 621.37,436.81 620.86,436.28 620.36,435.75 619.87,435.22 619.38,434.68 618.90,434.15 618.43,433.62 617.97,433.08 617.51,432.55 617.06,432.02 616.62,431.49 616.19,430.95 615.76,430.42 615.34,429.89 614.92,429.36 614.51,428.82 614.11,428.29 613.71,427.76 613.32,427.22 612.94,426.69 612.56,426.16 612.18,425.63 611.81,425.09 611.45,424.56 611.09,424.03 610.74,423.49 610.39,422.96 610.04,422.43 609.71,421.90 609.37,421.36 609.04,420.83 608.71,420.30 608.39,419.76 608.08,419.23 607.76,418.70 607.45,418.17 607.15,417.63 606.85,417.10 606.55,416.57 606.26,416.04 605.97,415.50 605.68,414.97 605.40,414.44 605.12,413.90 604.84,413.37 604.57,412.84 604.30,412.31 604.03,411.77 603.77,411.24 603.51,410.71 603.26,410.17 603.00,409.64 602.75,409.11 602.50,408.58 602.26,408.04 602.02,407.51 601.78,406.98 601.54,406.44 601.31,405.91 601.08,405.38 600.85,404.85 600.62,404.31 600.40,403.78 600.18,403.25 599.96,402.72 599.74,402.18 599.53,401.65 599.32,401.12 599.11,400.58 598.90,400.05 598.70,399.52 598.50,398.99 598.29,398.45 598.10,397.92 597.90,397.39 597.71,396.85 597.51,396.32 597.32,395.79 597.13,395.26 596.95,394.72 596.76,394.19 596.58,393.66 596.40,393.12 596.22,392.59 596.04,392.06 595.87,391.53 595.69,390.99 595.52,390.46 595.35,389.93 595.18,389.40 595.01,388.86 594.85,388.33 594.68,387.80 594.52,387.26 594.36,386.73 594.20,386.20 594.04,385.67 593.89,385.13 593.73,384.60" fill="none" stroke="#A9A9A9" stroke-width="1.4" stroke-dasharray="5.45 5.45" stroke-dashoffset="0.0"/><polyline points="675.70,443.80 675.34,443.64 674.99,443.48 674.63,443.32 674.28,443.16 673.92,443.00 673.57,442.83 673.21,442.67 672.86,442.50 672.50,442.34 672.15,442.17 671.79,442.00 671.44,441.83 671.08,441.65 670.73,441.48 670.37,441.31 670.02,441.13 669.66,440.96 669.31,440.78 668.95,440.60 668.60,440.42 668.24,440.24 667.89,440.05 667.53,439.87 667.18,439.68 666.82,439.49 666.46,439.31 666.11,439.12 665.75,438.92 665.40,438.73 665.04,438.54 664.69,438.34 664.33,438.15 663.98,437.95 663.62,437.75 663.27,437.54 662.91,437.34 662.56,437.14 662.20,436.93 661.85,436.72 661.49,436.51 661.14,436.30 660.78,436.09 660.43,435.88 660.07,435.66 659.72,435.44 659.36,435.22 659.01,435.00 658.65,434.78 658.30,434.55 657.94,434.33 657.58,434.10 657.23,433.87 656.87,433.64 656.52,433.40 656.16,433.17 655.81,432.93 655.45,432.69 655.10,432.45 654.74,432.21 654.39,431.96 654.03,431.71 653.68,431.46 653.32,431.21 652.97,430.96 652.61,430.70 652.26,430.44 651.90,430.18 651.55,429.92 651.19,429.65 650.84,429.39 650.48,429.12 650.13,428.84 649.77,428.57 649.42,428.29 649.06,428.01 648.70,427.73 648.35,427.45 647.99,427.16 647.64,426.87 647.28,426.58 646.93,426.28 646.57,425.99 646.22,425.69 645.86,425.38 645.51,425.08 645.15,424.77 644.80,424.46 644.44,424.14 644.09,423.82 643.73,423.50 643.38,423.18 643.02,422.85 642.67,422.52 642.31,422.19 641.96,421.85 641.60,421.51 641.25,421.17 640.89,420.82 640.54,420.47 640.18,420.12 639.83,419.76 639.48,419.41 639.13,419.05 638.79,418.70 638.45,418.34 638.11,417.99 637.78,417.63 637.45,417.28 637.12,416.92 636.80,416.57 636.48,416.21 636.16,415.86 635.84,415.50 635.53,415.15 635.22,414.79 634.92,414.44 634.61,414.08 634.31,413.73 634.02,413.37 633.72,413.02 633.43,412.66 633.14,412.31 632.85,411.95 632.57,411.60 632.29,411.24 632.01,410.88 631.73,410.53 631.46,410.17 631.18,409.82 630.91,409.46 630.65,409.11 630.38,408.75 630.12,408.40 629.86,408.04 629.60,407.69 629.34,407.33 629.09,406.98 628.84,406.62 628.59,406.27 628.34,405.91 628.09,405.56 627.85,405.20 627.61,404.85 627.37,404.49 627.13,404.14 626.90,403.78 626.66,403.43 626.43,403.07 626.20,402.72 625.97,402.36 625.75,402.00 625.52,401.65 625.30,401.29 625.08,400.94 624.86,400.58 624.64,400.23 624.42,399.87 624.21,399.52 624.00,399.16 623.79,398.81 623.58,398.45 623.37,398.10 623.16,397.74 622.96,397.39 622.76,397.03 622.55,396.68 622.35,396.32 622.15,395.97 621.96,395.61 621.76,395.26 621.57,394.90 621.38,394.55 621.18,394.19 620.99,393.84 620.81,393.48 620.62,393.12 620.43,392.77 620.25,392.41 620.06,392.06 619.88,391.70 619.70,391.35 619.52,390.99 619.34,390.64 619.17,390.28 618.99,389.93 618.82,389.57 618.65,389.22 618.47,388.86 618.30,388.51 618.13,388.15 617.96,387.80 617.80,387.44 617.63,387.09 617.47,386.73 617.30,386.38 617.14,386.02 616.98,385.67 616.82,385.31 616.66,384.96 616.50,384.60" fill="none" stroke="#A9A9A9" stroke-width="1.4" stroke-dasharray="5.45 5.45" stroke-dashoffset="0.0"/><polyline points="675.70,416.89 675.52,416.77 675.34,416.65 675.17,416.53 674.99,416.41 674.81,416.29 674.63,416.17 674.46,416.05 674.28,415.93 674.10,415.80 673.92,415.68 673.75,415.56 673.57,415.43 673.39,415.31 673.21,415.18 673.04,415.06 672.86,414.93 672.68,414.81 672.50,414.68 672.33,414.55 672.15,414.42 671.97,414.30 671.79,414.17 671.62,414.04 671.44,413.91 671.26,413.78 671.08,413.65 670.90,413.52 670.73,413.38 670.55,413.25 670.37,413.12 670.19,412.99 670.02,412.85 669.84,412.72 669.66,412.58 669.48,412.45 669.31,412.31 669.13,412.17 668.95,412.04 668.77,411.90 668.60,411.76 668.42,411.62 668.24,411.48 668.06,411.35 667.89,411.20 667.71,411.06 667.53,410.92 667.35,410.78 667.18,410.64 667.00,410.50 666.82,410.35 666.64,410.21 666.46,410.06 666.29,409.92 666.11,409.77 665.93,409.63 665.75,409.48 665.58,409.33 665.40,409.18 665.22,409.03 665.04,408.88 664.87,408.73 664.69,408.58 664.51,408.43 664.33,408.28 664.16,408.13 663.98,407.97 663.80,407.82 663.62,407.67 663.45,407.51 663.27,407.36 663.09,407.20 662.91,407.04 662.74,406.88 662.56,406.73 662.38,406.57 662.20,406.41 662.02,406.25 661.85,406.09 661.67,405.92 661.49,405.76 661.31,405.60 661.14,405.43 660.96,405.27 660.78,405.10 660.60,404.94 660.43,404.77 660.25,404.60 660.07,404.44 659.89,404.27 659.72,404.10 659.54,403.93 659.36,403.76 659.18,403.58 659.01,403.41 658.83,403.24 658.65,403.06 658.47,402.89 658.30,402.71 658.12,402.54 657.94,402.36 657.76,402.18 657.59,402.00 657.41,401.83 657.24,401.65 657.06,401.47 656.89,401.29 656.72,401.12 656.54,400.94 656.37,400.76 656.20,400.58 656.03,400.41 655.86,400.23 655.70,400.05 655.53,399.87 655.36,399.70 655.20,399.52 655.03,399.34 654.87,399.16 654.70,398.99 654.54,398.81 654.38,398.63 654.21,398.45 654.05,398.28 653.89,398.10 653.73,397.92 653.57,397.74 653.42,397.56 653.26,397.39 653.10,397.21 652.95,397.03 652.79,396.85 652.63,396.68 652.48,396.50 652.33,396.32 652.17,396.14 652.02,395.97 651.87,395.79 651.72,395.61 651.57,395.43 651.42,395.26 651.27,395.08 651.12,394.90 650.97,394.72 650.82,394.55 650.67,394.37 650.53,394.19 650.38,394.01 650.24,393.84 650.09,393.66 649.95,393.48 649.80,393.30 649.66,393.12 649.52,392.95 649.38,392.77 649.24,392.59 649.10,392.41 648.95,392.24 648.82,392.06 648.68,391.88 648.54,391.70 648.40,391.53 648.26,391.35 648.13,391.17 647.99,390.99 647.85,390.82 647.72,390.64 647.58,390.46 647.45,390.28 647.31,390.11 647.18,389.93 647.05,389.75 646.92,389.57 646.78,389.40 646.65,389.22 646.52,389.04 646.39,388.86 646.26,388.68 646.13,388.51 646.00,388.33 645.88,388.15 645.75,387.97 645.62,387.80 645.49,387.62 645.37,387.44 645.24,387.26 645.12,387.09 644.99,386.91 644.87,386.73 644.74,386.55 644.62,386.38 644.50,386.20 644.37,386.02 644.25,385.84 644.13,385.67 644.01,385.49 643.89,385.31 643.77,385.13 643.65,384.96 643.53,384.78 643.41,384.60" fill="none" stroke="#A9A9A9" stroke-width="1.4" stroke-dasharray="5.45 5.45" stroke-dashoffset="0.0"/></g>
<rect x="489.50" y="376.00" width="194.90" height="194.90" fill="none" stroke="none" stroke-width="1.2"/>
<line x1="498.10" y1="570.90" x2="498.10" y2="573.10" stroke="#333333" stroke-width="1"/>
<line x1="487.30" y1="562.20" x2="489.50" y2="562.20" stroke="#333333" stroke-width="1"/>
<text x="498.10" y="578.80" font-size="6.35" text-anchor="middle" fill="#4D4D4D" font-weight="normal" font-style="normal" >0.00</text>
<text x="485.90" y="564.89" font-size="6.35" text-anchor="end" fill="#4D4D4D" font-weight="normal" font-style="normal" >0.00</text>
<line x1="542.50" y1="570.90" x2="542.50" y2="573.10" stroke="#333333" stroke-width="1"/>
<line x1="487.30" y1="517.80" x2="489.50" y2="517.80" stroke="#333333" stroke-width="1"/>
<text x="542.50" y="578.80" font-size="6.35" text-anchor="middle" fill="#4D4D4D" font-weight="normal" font-style="normal" >0.25</text>
<text x="485.90" y="520.49" font-size="6.35" text-anchor="end" fill="#4D4D4D" font-weight="normal" font-style="normal" >0.25</text>
<line x1="586.90" y1="570.90" x2="586.90" y2="573.10" stroke="#333333" stroke-width="1"/>
<line x1="487.30" y1="473.40" x2="489.50" y2="473.40" stroke="#333333" stroke-width="1"/>
<text x="586.90" y="578.80" font-size="6.35" text-anchor="middle" fill="#4D4D4D" font-weight="normal" font-style="normal" >0.50</text>
<text x="485.90" y="476.09" font-size="6.35" text-anchor="end" fill="#4D4D4D" font-weight="normal" font-style="normal" >0.50</text>
<line x1="631.30" y1="570.90" x2="631.30" y2="573.10" stroke="#333333" stroke-width="1"/>
<line x1="487.30" y1="429.00" x2="489.50" y2="429.00" stroke="#333333" stroke-width="1"/>
<text x="631.30" y="578.80" font-size="6.35" text-anchor="middle" fill="#4D4D4D" font-weight="normal" font-style="normal" >0.75</text>
<text x="485.90" y="431.69" font-size="6.35" text-anchor="end" fill="#4D4D4D" font-weight="normal" font-style="normal" >0.75</text>
<line x1="675.70" y1="570.90" x2="675.70" y2="573.10" stroke="#333333" stroke-width="1"/>
<line x1="487.30" y1="384.60" x2="489.50" y2="384.60" stroke="#333333" stroke-width="1"/>
<text x="675.70" y="578.80" font-size="6.35" text-anchor="middle" fill="#4D4D4D" font-weight="normal" font-style="normal" >1.00</text>
<text x="485.90" y="387.29" font-size="6.35" text-anchor="end" fill="#4D4D4D" font-weight="normal" font-style="normal" >1.00</text>
<text x="586.95" y="588.80" font-size="7.85" text-anchor="middle" fill="#000" font-weight="normal" font-style="normal" >Recall</text>
<text x="469.50" y="473.45" font-size="7.85" text-anchor="middle" fill="#000" font-weight="normal" font-style="normal" transform="rotate(-90 469.50 473.45)">Precision</text>
<rect x="489.5" y="376.0" width="195.00" height="194.8" fill="none" stroke="#606060" stroke-width="1.35"/>
<text x="484.95" y="366.70" font-size="9.45" text-anchor="start" fill="#000" font-weight="normal" font-style="normal" >Performance at different cutoff and ratio for SVA</text>
<text x="58.70" y="543.40" font-size="6.9" text-anchor="start" fill="#B3B3B3" font-weight="normal" font-style="normal" >F=0.1</text>
<text x="76.10" y="525.40" font-size="6.9" text-anchor="start" fill="#B3B3B3" font-weight="normal" font-style="normal" >F=0.2</text>
<text x="93.80" y="507.00" font-size="6.9" text-anchor="start" fill="#B3B3B3" font-weight="normal" font-style="normal" >F=0.3</text>
<text x="111.50" y="490.00" font-size="6.9" text-anchor="start" fill="#B3B3B3" font-weight="normal" font-style="normal" >F=0.4</text>
<text x="129.20" y="472.30" font-size="6.9" text-anchor="start" fill="#B3B3B3" font-weight="normal" font-style="normal" >F=0.5</text>
<text x="137.00" y="441.50" font-size="6.9" text-anchor="start" fill="#B3B3B3" font-weight="normal" font-style="normal" >F=0.6</text>
<text x="167.00" y="438.00" font-size="6.9" text-anchor="start" fill="#B3B3B3" font-weight="normal" font-style="normal" >F=0.7</text>
<text x="185.80" y="421.30" font-size="6.9" text-anchor="start" fill="#B3B3B3" font-weight="normal" font-style="normal" >F=0.8</text>
<text x="204.20" y="400.80" font-size="6.9" text-anchor="start" fill="#B3B3B3" font-weight="normal" font-style="normal" >F=0.9</text>
<text x="287.60" y="543.40" font-size="6.9" text-anchor="start" fill="#B3B3B3" font-weight="normal" font-style="normal" >F=0.1</text>
<text x="305.20" y="525.40" font-size="6.9" text-anchor="start" fill="#B3B3B3" font-weight="normal" font-style="normal" >F=0.2</text>
<text x="323.00" y="507.00" font-size="6.9" text-anchor="start" fill="#B3B3B3" font-weight="normal" font-style="normal" >F=0.3</text>
<text x="340.00" y="490.00" font-size="6.9" text-anchor="start" fill="#B3B3B3" font-weight="normal" font-style="normal" >F=0.4</text>
<text x="358.30" y="472.30" font-size="6.9" text-anchor="start" fill="#B3B3B3" font-weight="normal" font-style="normal" >F=0.5</text>
<text x="376.40" y="453.90" font-size="6.9" text-anchor="start" fill="#B3B3B3" font-weight="normal" font-style="normal" >F=0.6</text>
<text x="394.00" y="436.20" font-size="6.9" text-anchor="start" fill="#B3B3B3" font-weight="normal" font-style="normal" >F=0.7</text>
<text x="412.50" y="418.00" font-size="6.9" text-anchor="start" fill="#B3B3B3" font-weight="normal" font-style="normal" >F=0.8</text>
<text x="406.50" y="383.60" font-size="6.9" text-anchor="start" fill="#B3B3B3" font-weight="normal" font-style="normal" >F=0.9</text>
<text x="517.60" y="543.10" font-size="6.9" text-anchor="start" fill="#B3B3B3" font-weight="normal" font-style="normal" >F=0.1</text>
<text x="535.30" y="525.00" font-size="6.9" text-anchor="start" fill="#B3B3B3" font-weight="normal" font-style="normal" >F=0.2</text>
<text x="553.00" y="507.00" font-size="6.9" text-anchor="start" fill="#B3B3B3" font-weight="normal" font-style="normal" >F=0.3</text>
<text x="570.30" y="489.30" font-size="6.9" text-anchor="start" fill="#B3B3B3" font-weight="normal" font-style="normal" >F=0.4</text>
<text x="588.40" y="471.60" font-size="6.9" text-anchor="start" fill="#B3B3B3" font-weight="normal" font-style="normal" >F=0.5</text>
<text x="606.40" y="453.60" font-size="6.9" text-anchor="start" fill="#B3B3B3" font-weight="normal" font-style="normal" >F=0.6</text>
<text x="624.10" y="435.50" font-size="6.9" text-anchor="start" fill="#B3B3B3" font-weight="normal" font-style="normal" >F=0.7</text>
<text x="639.00" y="415.00" font-size="6.9" text-anchor="start" fill="#B3B3B3" font-weight="normal" font-style="normal" >F=0.8</text>
<text x="635.40" y="383.70" font-size="6.9" text-anchor="start" fill="#B3B3B3" font-weight="normal" font-style="normal" >F=0.9</text>
<g clip-path="url(#cp0)"><rect x="207.40" y="552.90" width="4.20" height="4.20" fill="#313695"/><rect x="205.35" y="552.15" width="4.30" height="4.30" fill="#4066AD"/><rect x="202.80" y="551.30" width="4.40" height="4.40" fill="#5E93C4"/><rect x="200.45" y="550.55" width="4.50" height="4.50" fill="#85BBD8"/><rect x="196.25" y="549.75" width="4.50" height="4.50" fill="#AFDBEA"/><rect x="194.20" y="549.20" width="4.60" height="4.60" fill="#D8EFF6"/><rect x="192.20" y="548.70" width="4.60" height="4.60" fill="#F3FAD5"/><rect x="190.10" y="548.20" width="4.80" height="4.80" fill="#FFF3AD"/><rect x="188.00" y="547.70" width="5.00" height="5.00" fill="#FED889"/><rect x="184.75" y="547.05" width="5.50" height="5.50" fill="#FDB265"/><rect x="178.55" y="545.55" width="6.50" height="6.50" fill="#F7814C"/><rect x="171.00" y="544.50" width="7.00" height="7.00" fill="#E75136"/><rect x="161.15" y="542.25" width="7.30" height="7.30" fill="#CB2527"/><rect x="144.15" y="533.75" width="9.50" height="9.50" fill="#A51B2C"/><polygon points="209.00,503.30 204.70,510.50 213.30,510.50" fill="#313695"/><polygon points="207.00,501.00 202.70,508.00 211.30,508.00" fill="#4066AD"/><polygon points="205.00,497.80 200.60,505.00 209.40,505.00" fill="#5E93C4"/><polygon points="203.20,494.20 198.60,501.50 207.80,501.50" fill="#85BBD8"/><polygon points="199.50,489.50 195.00,494.30 204.00,494.30" fill="#AFDBEA"/><polygon points="197.00,488.50 192.30,493.50 201.70,493.50" fill="#D8EFF6"/><polygon points="195.00,487.00 190.20,492.30 199.80,492.30" fill="#F3FAD5"/><polygon points="193.20,485.50 188.20,491.50 198.20,491.50" fill="#FFF3AD"/><polygon points="191.30,483.50 186.05,490.30 196.55,490.30" fill="#FED889"/><polygon points="189.30,481.80 183.80,489.30 194.80,489.30" fill="#FDB265"/><polygon points="183.40,474.40 178.25,482.70 188.55,482.70" fill="#F7814C"/><polygon points="178.40,470.90 173.15,479.40 183.65,479.40" fill="#E75136"/><polygon points="168.90,464.30 163.50,473.50 174.30,473.50" fill="#CB2527"/><polygon points="154.20,444.00 148.50,453.80 159.90,453.80" fill="#A51B2C"/><circle cx="210.30" cy="417.80" r="3.00" fill="#313695"/><circle cx="208.30" cy="415.40" r="2.90" fill="#4066AD"/><circle cx="206.40" cy="413.50" r="2.90" fill="#5E93C4"/><circle cx="203.70" cy="411.50" r="2.90" fill="#85BBD8"/><circle cx="198.20" cy="408.00" r="2.70" fill="#AFDBEA"/><circle cx="197.20" cy="407.70" r="2.70" fill="#D8EFF6"/><circle cx="196.20" cy="407.40" r="2.70" fill="#F3FAD5"/><circle cx="194.50" cy="406.90" r="2.70" fill="#FFF3AD"/><circle cx="191.90" cy="406.00" r="2.70" fill="#FED889"/><circle cx="188.60" cy="404.60" r="2.70" fill="#FDB265"/><circle cx="184.70" cy="403.00" r="2.70" fill="#F7814C"/><circle cx="179.20" cy="401.60" r="2.70" fill="#E75136"/><circle cx="170.00" cy="399.70" r="2.70" fill="#CB2527"/><circle cx="154.10" cy="394.40" r="2.50" fill="#A51B2C"/><path d="M207.50,388.30H212.70M210.10,385.70V390.90" stroke="#313695" stroke-width="1.2" fill="none"/><path d="M206.10,387.70H211.10M208.60,385.20V390.20" stroke="#4066AD" stroke-width="1.2" fill="none"/><path d="M204.20,387.40H209.00M206.60,385.00V389.80" stroke="#5E93C4" stroke-width="1.2" fill="none"/><path d="M201.40,387.10H206.00M203.70,384.80V389.40" stroke="#85BBD8" stroke-width="1.2" fill="none"/><path d="M197.05,386.90H201.35M199.20,384.75V389.05" stroke="#AFDBEA" stroke-width="1.2" fill="none"/><path d="M195.05,386.80H199.35M197.20,384.65V388.95" stroke="#D8EFF6" stroke-width="1.2" fill="none"/><path d="M193.35,386.70H197.65M195.50,384.55V388.85" stroke="#F3FAD5" stroke-width="1.2" fill="none"/><path d="M191.55,386.60H195.85M193.70,384.45V388.75" stroke="#FFF3AD" stroke-width="1.2" fill="none"/><path d="M189.25,386.60H193.55M191.40,384.45V388.75" stroke="#FED889" stroke-width="1.2" fill="none"/><path d="M186.35,386.60H190.65M188.50,384.45V388.75" stroke="#FDB265" stroke-width="1.2" fill="none"/><path d="M182.25,386.60H186.55M184.40,384.45V388.75" stroke="#F7814C" stroke-width="1.2" fill="none"/><path d="M176.95,386.60H181.25M179.10,384.45V388.75" stroke="#E75136" stroke-width="1.2" fill="none"/><path d="M167.90,386.20H172.10M170.00,384.10V388.30" stroke="#CB2527" stroke-width="1.2" fill="none"/><path d="M151.90,385.50H155.70M153.80,383.60V387.40" stroke="#A51B2C" stroke-width="1.2" fill="none"/></g>
<g clip-path="url(#cp1)"><rect x="443.80" y="556.60" width="4.00" height="4.00" fill="#313695"/><rect x="443.70" y="556.20" width="4.00" height="4.00" fill="#4066AD"/><rect x="443.55" y="555.75" width="4.10" height="4.10" fill="#5E93C4"/><rect x="443.40" y="555.10" width="4.20" height="4.20" fill="#85BBD8"/><rect x="443.15" y="554.35" width="4.30" height="4.30" fill="#AFDBEA"/><rect x="443.00" y="553.00" width="4.40" height="4.40" fill="#D8EFF6"/><rect x="442.80" y="552.40" width="4.40" height="4.40" fill="#F3FAD5"/><rect x="442.35" y="551.75" width="4.50" height="4.50" fill="#FFF3AD"/><rect x="442.00" y="551.00" width="4.60" height="4.60" fill="#FED889"/><rect x="441.40" y="550.10" width="4.80" height="4.80" fill="#FDB265"/><rect x="440.70" y="549.00" width="5.00" height="5.00" fill="#F7814C"/><rect x="439.75" y="547.45" width="5.50" height="5.50" fill="#E75136"/><rect x="438.00" y="542.80" width="6.20" height="6.20" fill="#CB2527"/><rect x="433.25" y="537.25" width="7.50" height="7.50" fill="#A51B2C"/><polygon points="446.00,519.50 441.90,526.50 450.10,526.50" fill="#313695"/><polygon points="446.00,516.50 441.75,523.80 450.25,523.80" fill="#4066AD"/><polygon points="445.80,512.50 441.40,520.00 450.20,520.00" fill="#5E93C4"/><polygon points="445.60,508.00 441.10,515.40 450.10,515.40" fill="#85BBD8"/><polygon points="444.80,498.00 440.10,506.50 449.50,506.50" fill="#AFDBEA"/><polygon points="444.50,495.00 439.70,503.50 449.30,503.50" fill="#D8EFF6"/><polygon points="444.20,492.50 439.30,501.00 449.10,501.00" fill="#F3FAD5"/><polygon points="444.00,490.50 439.00,499.60 449.00,499.60" fill="#FFF3AD"/><polygon points="443.80,487.50 438.70,495.80 448.90,495.80" fill="#FED889"/><polygon points="443.50,485.00 438.25,493.80 448.75,493.80" fill="#FDB265"/><polygon points="443.20,481.50 437.70,490.40 448.70,490.40" fill="#F7814C"/><polygon points="442.30,474.60 436.90,483.80 447.70,483.80" fill="#E75136"/><polygon points="440.50,464.00 434.75,473.80 446.25,473.80" fill="#CB2527"/><polygon points="436.40,449.80 430.05,460.60 442.75,460.60" fill="#A51B2C"/><circle cx="446.00" cy="432.00" r="3.00" fill="#313695"/><circle cx="445.80" cy="428.50" r="3.00" fill="#4066AD"/><circle cx="445.70" cy="425.00" r="3.00" fill="#5E93C4"/><circle cx="445.50" cy="420.50" r="3.00" fill="#85BBD8"/><circle cx="445.20" cy="415.60" r="3.00" fill="#AFDBEA"/><circle cx="445.20" cy="414.60" r="2.90" fill="#D8EFF6"/><circle cx="445.10" cy="413.30" r="2.90" fill="#F3FAD5"/><circle cx="444.90" cy="411.90" r="2.90" fill="#FFF3AD"/><circle cx="444.60" cy="410.40" r="2.90" fill="#FED889"/><circle cx="444.00" cy="408.20" r="2.90" fill="#FDB265"/><circle cx="443.10" cy="405.80" r="2.90" fill="#F7814C"/><circle cx="441.80" cy="402.70" r="2.90" fill="#E75136"/><circle cx="440.00" cy="399.60" r="2.90" fill="#CB2527"/><circle cx="435.20" cy="395.90" r="2.60" fill="#A51B2C"/><path d="M443.20,390.60H448.80M446.00,387.80V393.40" stroke="#313695" stroke-width="1.2" fill="none"/><path d="M443.20,390.00H448.40M445.80,387.40V392.60" stroke="#4066AD" stroke-width="1.2" fill="none"/><path d="M443.00,389.50H448.00M445.50,387.00V392.00" stroke="#5E93C4" stroke-width="1.2" fill="none"/><path d="M442.80,389.00H447.60M445.20,386.60V391.40" stroke="#85BBD8" stroke-width="1.2" fill="none"/><path d="M442.60,388.50H447.20M444.90,386.20V390.80" stroke="#AFDBEA" stroke-width="1.2" fill="none"/><path d="M442.40,388.10H446.80M444.60,385.90V390.30" stroke="#D8EFF6" stroke-width="1.2" fill="none"/><path d="M442.15,387.80H446.45M444.30,385.65V389.95" stroke="#F3FAD5" stroke-width="1.2" fill="none"/><path d="M441.75,387.50H446.05M443.90,385.35V389.65" stroke="#FFF3AD" stroke-width="1.2" fill="none"/><path d="M441.15,387.20H445.45M443.30,385.05V389.35" stroke="#FED889" stroke-width="1.2" fill="none"/><path d="M440.45,386.90H444.75M442.60,384.75V389.05" stroke="#FDB265" stroke-width="1.2" fill="none"/><path d="M439.65,386.60H443.95M441.80,384.45V388.75" stroke="#F7814C" stroke-width="1.2" fill="none"/><path d="M438.65,386.30H442.95M440.80,384.15V388.45" stroke="#E75136" stroke-width="1.2" fill="none"/><path d="M437.50,386.10H441.70M439.60,384.00V388.20" stroke="#CB2527" stroke-width="1.2" fill="none"/><path d="M433.80,385.60H437.60M435.70,383.70V387.50" stroke="#A51B2C" stroke-width="1.2" fill="none"/></g>
<g clip-path="url(#cp2)"><rect x="671.40" y="552.30" width="4.20" height="4.20" fill="#313695"/><rect x="670.85" y="551.65" width="4.30" height="4.30" fill="#4066AD"/><rect x="669.80" y="550.60" width="4.40" height="4.40" fill="#5E93C4"/><rect x="668.70" y="549.20" width="4.60" height="4.60" fill="#85BBD8"/><rect x="667.60" y="548.10" width="4.80" height="4.80" fill="#AFDBEA"/><rect x="666.00" y="545.50" width="5.00" height="5.00" fill="#D8EFF6"/><rect x="663.25" y="543.75" width="5.50" height="5.50" fill="#F3FAD5"/><rect x="661.80" y="542.80" width="6.00" height="6.00" fill="#FFF3AD"/><rect x="660.55" y="542.05" width="6.30" height="6.30" fill="#FED889"/><rect x="659.25" y="541.25" width="6.50" height="6.50" fill="#FDB265"/><rect x="657.10" y="539.60" width="7.00" height="7.00" fill="#F7814C"/><rect x="655.95" y="535.65" width="7.10" height="7.10" fill="#E75136"/><rect x="651.25" y="531.85" width="7.90" height="7.90" fill="#CB2527"/><rect x="645.20" y="518.00" width="9.60" height="9.60" fill="#A51B2C"/><polygon points="673.70,498.70 669.40,505.90 678.00,505.90" fill="#313695"/><polygon points="673.20,490.00 668.70,497.60 677.70,497.60" fill="#4066AD"/><polygon points="672.50,484.00 668.00,491.70 677.00,491.70" fill="#5E93C4"/><polygon points="671.70,475.80 667.00,484.00 676.40,484.00" fill="#85BBD8"/><polygon points="669.50,465.00 664.00,472.00 675.00,472.00" fill="#AFDBEA"/><polygon points="667.50,464.50 662.25,471.30 672.75,471.30" fill="#D8EFF6"/><polygon points="666.80,463.00 661.55,470.50 672.05,470.50" fill="#F3FAD5"/><polygon points="666.20,461.50 660.95,469.10 671.45,469.10" fill="#FFF3AD"/><polygon points="665.60,458.50 660.20,466.40 671.00,466.40" fill="#FED889"/><polygon points="665.00,455.50 659.40,463.20 670.60,463.20" fill="#FDB265"/><polygon points="664.30,451.80 658.40,459.60 670.20,459.60" fill="#F7814C"/><polygon points="663.00,444.60 657.00,451.30 669.00,451.30" fill="#E75136"/><polygon points="659.90,434.90 654.00,444.60 665.80,444.60" fill="#CB2527"/><polygon points="653.80,418.50 647.55,428.80 660.05,428.80" fill="#A51B2C"/><circle cx="673.70" cy="414.30" r="3.00" fill="#313695"/><circle cx="673.20" cy="409.60" r="2.90" fill="#4066AD"/><circle cx="672.70" cy="406.70" r="2.90" fill="#5E93C4"/><circle cx="671.70" cy="403.20" r="2.90" fill="#85BBD8"/><circle cx="670.30" cy="399.50" r="2.70" fill="#AFDBEA"/><circle cx="669.50" cy="399.00" r="2.60" fill="#D8EFF6"/><circle cx="668.90" cy="398.70" r="2.60" fill="#F3FAD5"/><circle cx="668.30" cy="398.30" r="2.60" fill="#FFF3AD"/><circle cx="667.60" cy="397.80" r="2.60" fill="#FED889"/><circle cx="666.60" cy="397.10" r="2.60" fill="#FDB265"/><circle cx="665.10" cy="395.90" r="2.60" fill="#F7814C"/><circle cx="662.90" cy="394.40" r="2.60" fill="#E75136"/><circle cx="659.90" cy="392.60" r="2.60" fill="#CB2527"/><circle cx="653.60" cy="389.90" r="2.30" fill="#A51B2C"/><path d="M671.90,387.90H677.30M674.60,385.20V390.60" stroke="#313695" stroke-width="1.2" fill="none"/><path d="M671.40,387.60H676.60M674.00,385.00V390.20" stroke="#4066AD" stroke-width="1.2" fill="none"/><path d="M670.70,387.20H675.70M673.20,384.70V389.70" stroke="#5E93C4" stroke-width="1.2" fill="none"/><path d="M670.00,386.50H674.80M672.40,384.10V388.90" stroke="#85BBD8" stroke-width="1.2" fill="none"/><path d="M669.20,385.90H673.80M671.50,383.60V388.20" stroke="#AFDBEA" stroke-width="1.2" fill="none"/><path d="M668.60,386.00H673.00M670.80,383.80V388.20" stroke="#D8EFF6" stroke-width="1.2" fill="none"/><path d="M668.00,385.80H672.40M670.20,383.60V388.00" stroke="#F3FAD5" stroke-width="1.2" fill="none"/><path d="M667.10,385.70H671.50M669.30,383.50V387.90" stroke="#FFF3AD" stroke-width="1.2" fill="none"/><path d="M665.80,385.60H670.20M668.00,383.40V387.80" stroke="#FED889" stroke-width="1.2" fill="none"/><path d="M664.20,385.50H668.60M666.40,383.30V387.70" stroke="#FDB265" stroke-width="1.2" fill="none"/><path d="M662.30,385.50H666.70M664.50,383.30V387.70" stroke="#F7814C" stroke-width="1.2" fill="none"/><path d="M660.50,385.50H664.90M662.70,383.30V387.70" stroke="#E75136" stroke-width="1.2" fill="none"/><path d="M657.20,385.50H661.60M659.40,383.30V387.70" stroke="#CB2527" stroke-width="1.2" fill="none"/><path d="M651.55,385.30H655.45M653.50,383.35V387.25" stroke="#A51B2C" stroke-width="1.2" fill="none"/></g>
<text x="227.60" y="610.90" font-size="10.2" text-anchor="start" fill="#1a1a1a" font-weight="normal" font-style="normal" >signal-to-noise ratio</text>
<text x="338.40" y="610.90" font-size="9.1" text-anchor="start" fill="#1a1a1a" font-weight="normal" font-style="normal" >1:1</text>
<text x="369.90" y="610.90" font-size="9.1" text-anchor="start" fill="#1a1a1a" font-weight="normal" font-style="normal" >1:10</text>
<text x="407.40" y="610.90" font-size="9.1" text-anchor="start" fill="#1a1a1a" font-weight="normal" font-style="normal" >1:100</text>
<text x="451.40" y="610.90" font-size="9.1" text-anchor="start" fill="#1a1a1a" font-weight="normal" font-style="normal" >1:1000</text>
<text x="134.20" y="630.30" font-size="10.2" text-anchor="start" fill="#1a1a1a" font-weight="normal" font-style="normal" >cutoff</text>
<text x="178.00" y="629.70" font-size="9.1" text-anchor="start" fill="#1a1a1a" font-weight="normal" font-style="normal" >0.5</text>
<text x="204.80" y="629.70" font-size="9.1" text-anchor="start" fill="#1a1a1a" font-weight="normal" font-style="normal" >0.6</text>
<text x="232.00" y="629.70" font-size="9.1" text-anchor="start" fill="#1a1a1a" font-weight="normal" font-style="normal" >0.7</text>
<text x="258.50" y="629.70" font-size="9.1" text-anchor="start" fill="#1a1a1a" font-weight="normal" font-style="normal" >0.8</text>
<text x="285.70" y="629.70" font-size="9.1" text-anchor="start" fill="#1a1a1a" font-weight="normal" font-style="normal" >0.9</text>
<text x="312.30" y="629.70" font-size="9.1" text-anchor="start" fill="#1a1a1a" font-weight="normal" font-style="normal" >0.91</text>
<text x="341.70" y="629.70" font-size="9.1" text-anchor="start" fill="#1a1a1a" font-weight="normal" font-style="normal" >0.92</text>
<text x="371.40" y="629.70" font-size="9.1" text-anchor="start" fill="#1a1a1a" font-weight="normal" font-style="normal" >0.93</text>
<text x="401.40" y="629.70" font-size="9.1" text-anchor="start" fill="#1a1a1a" font-weight="normal" font-style="normal" >0.94</text>
<text x="431.00" y="629.70" font-size="9.1" text-anchor="start" fill="#1a1a1a" font-weight="normal" font-style="normal" >0.95</text>
<text x="460.30" y="629.70" font-size="9.1" text-anchor="start" fill="#1a1a1a" font-weight="normal" font-style="normal" >0.96</text>
<text x="489.70" y="629.70" font-size="9.1" text-anchor="start" fill="#1a1a1a" font-weight="normal" font-style="normal" >0.97</text>
<text x="519.60" y="629.70" font-size="9.1" text-anchor="start" fill="#1a1a1a" font-weight="normal" font-style="normal" >0.98</text>
<text x="549.00" y="629.70" font-size="9.1" text-anchor="start" fill="#1a1a1a" font-weight="normal" font-style="normal" >0.99</text>
<text x="209.60" y="647.60" font-size="10.2" text-anchor="start" fill="#1a1a1a" font-weight="normal" font-style="normal" >(standart deviation of precision) × 1000</text>
<text x="410.80" y="647.40" font-size="9.1" text-anchor="start" fill="#1a1a1a" font-weight="normal" font-style="normal" >2</text>
<text x="435.35" y="647.40" font-size="9.1" text-anchor="start" fill="#1a1a1a" font-weight="normal" font-style="normal" >4</text>
<text x="461.20" y="647.40" font-size="9.1" text-anchor="start" fill="#1a1a1a" font-weight="normal" font-style="normal" >6</text>
<text x="486.50" y="647.40" font-size="9.1" text-anchor="start" fill="#1a1a1a" font-weight="normal" font-style="normal" >8</text>
<path d="M329.8,607.4H336.2M333,604.3V610.5" stroke="#000" stroke-width="1.5" fill="none"/><circle cx="365.00" cy="607.60" r="2.85" fill="#000"/><polygon points="402.65,605.20 399.50,610.30 405.80,610.30" fill="#000"/><rect x="444.35" y="605.15" width="4.90" height="4.90" fill="#000"/><circle cx="173.20" cy="626.60" r="2.75" fill="#313695"/><circle cx="200.00" cy="626.60" r="2.75" fill="#4066AD"/><circle cx="227.20" cy="626.60" r="2.75" fill="#5E93C4"/><circle cx="253.70" cy="626.60" r="2.75" fill="#85BBD8"/><circle cx="280.90" cy="626.60" r="2.75" fill="#AFDBEA"/><circle cx="307.50" cy="626.60" r="2.75" fill="#D8EFF6"/><circle cx="336.90" cy="626.60" r="2.75" fill="#F3FAD5"/><circle cx="366.60" cy="626.60" r="2.75" fill="#FFF3AD"/><circle cx="396.60" cy="626.60" r="2.75" fill="#FED889"/><circle cx="426.20" cy="626.60" r="2.75" fill="#FDB265"/><circle cx="455.50" cy="626.60" r="2.75" fill="#F7814C"/><circle cx="484.90" cy="626.60" r="2.75" fill="#E75136"/><circle cx="514.80" cy="626.60" r="2.75" fill="#CB2527"/><circle cx="544.20" cy="626.60" r="2.75" fill="#A51B2C"/><circle cx="405.20" cy="644.00" r="2.90" fill="#000"/><circle cx="429.00" cy="644.00" r="3.65" fill="#000"/><circle cx="454.10" cy="644.00" r="4.40" fill="#000"/><circle cx="478.80" cy="644.00" r="5.00" fill="#000"/>
</svg></body></html>
